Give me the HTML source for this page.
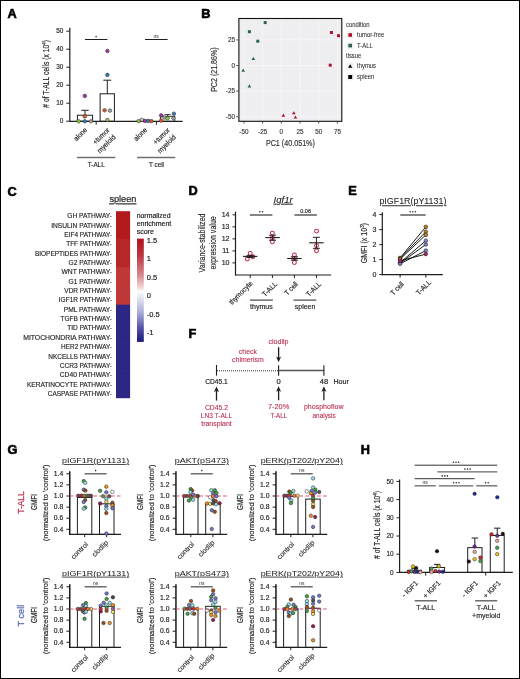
<!DOCTYPE html>
<html><head><meta charset="utf-8"><style>
html,body{margin:0;padding:0;background:#fff;}
svg{display:block;will-change:transform;font-family:"Liberation Sans", sans-serif;}
</style></head><body>
<svg width="520" height="679" viewBox="0 0 520 679">
<rect x="0" y="0" width="520" height="679" fill="#fff"/>
<rect x="0.50" y="0.50" width="519.00" height="678.00" fill="none" stroke="#000" stroke-width="1" />
<text x="0" y="0" font-size="12" fill="#000" stroke="#000" stroke-width="0.6" font-weight="bold" transform="translate(7.60 17.70) scale(1.06 1)" >A</text>
<text x="0" y="0" font-size="12" fill="#000" stroke="#000" stroke-width="0.6" font-weight="bold" transform="translate(201.20 17.60) scale(1.06 1)" >B</text>
<text x="0" y="0" font-size="12" fill="#000" stroke="#000" stroke-width="0.6" font-weight="bold" transform="translate(7.60 196.20) scale(1.06 1)" >C</text>
<text x="0" y="0" font-size="12" fill="#000" stroke="#000" stroke-width="0.6" font-weight="bold" transform="translate(188.40 195.40) scale(1.06 1)" >D</text>
<text x="0" y="0" font-size="12" fill="#000" stroke="#000" stroke-width="0.6" font-weight="bold" transform="translate(348.30 195.20) scale(1.06 1)" >E</text>
<text x="0" y="0" font-size="12" fill="#000" stroke="#000" stroke-width="0.6" font-weight="bold" transform="translate(188.60 337.60) scale(1.06 1)" >F</text>
<text x="0" y="0" font-size="12" fill="#000" stroke="#000" stroke-width="0.6" font-weight="bold" transform="translate(7.60 454.30) scale(1.06 1)" >G</text>
<text x="0" y="0" font-size="12" fill="#000" stroke="#000" stroke-width="0.6" font-weight="bold" transform="translate(360.80 453.80) scale(1.06 1)" >H</text>
<line x1="69.80" y1="27.80" x2="69.80" y2="121.80" stroke="#1e1e1e" stroke-width="1.2" />
<line x1="66.30" y1="121.20" x2="69.80" y2="121.20" stroke="#1e1e1e" stroke-width="1" />
<text x="0" y="0" font-size="7.2" fill="#2a2a2a" stroke="#2a2a2a" stroke-width="0.18" text-anchor="end" transform="translate(63.40 123.00) scale(0.9 1)" >0</text>
<line x1="66.30" y1="103.20" x2="69.80" y2="103.20" stroke="#1e1e1e" stroke-width="1" />
<text x="0" y="0" font-size="7.2" fill="#2a2a2a" stroke="#2a2a2a" stroke-width="0.18" text-anchor="end" transform="translate(63.40 105.00) scale(0.9 1)" >10</text>
<line x1="66.30" y1="85.20" x2="69.80" y2="85.20" stroke="#1e1e1e" stroke-width="1" />
<text x="0" y="0" font-size="7.2" fill="#2a2a2a" stroke="#2a2a2a" stroke-width="0.18" text-anchor="end" transform="translate(63.40 87.00) scale(0.9 1)" >20</text>
<line x1="66.30" y1="67.20" x2="69.80" y2="67.20" stroke="#1e1e1e" stroke-width="1" />
<text x="0" y="0" font-size="7.2" fill="#2a2a2a" stroke="#2a2a2a" stroke-width="0.18" text-anchor="end" transform="translate(63.40 69.00) scale(0.9 1)" >30</text>
<line x1="66.30" y1="49.20" x2="69.80" y2="49.20" stroke="#1e1e1e" stroke-width="1" />
<text x="0" y="0" font-size="7.2" fill="#2a2a2a" stroke="#2a2a2a" stroke-width="0.18" text-anchor="end" transform="translate(63.40 51.00) scale(0.9 1)" >40</text>
<line x1="66.30" y1="31.20" x2="69.80" y2="31.20" stroke="#1e1e1e" stroke-width="1" />
<text x="0" y="0" font-size="7.2" fill="#2a2a2a" stroke="#2a2a2a" stroke-width="0.18" text-anchor="end" transform="translate(63.40 33.00) scale(0.9 1)" >50</text>
<text x="0" y="0" font-size="8.5" fill="#2a2a2a" stroke="#2a2a2a" stroke-width="0.18" text-anchor="middle" transform="translate(49.40 73.90) rotate(-90)" textLength="67.6" lengthAdjust="spacingAndGlyphs" ># of T-ALL cells (x 10<tspan dy="-3" font-size="5.5">4</tspan><tspan dy="3">)</tspan></text>
<line x1="69.80" y1="121.30" x2="182.60" y2="121.30" stroke="#1e1e1e" stroke-width="1.2" />
<line x1="96.20" y1="121.30" x2="96.20" y2="124.70" stroke="#1e1e1e" stroke-width="1" />
<line x1="156.40" y1="121.30" x2="156.40" y2="124.70" stroke="#1e1e1e" stroke-width="1" />
<rect x="77.40" y="115.20" width="15.20" height="6.10" fill="none" stroke="#1e1e1e" stroke-width="1" />
<line x1="85.00" y1="115.20" x2="85.00" y2="110.30" stroke="#1e1e1e" stroke-width="1" />
<line x1="81.30" y1="110.30" x2="88.70" y2="110.30" stroke="#1e1e1e" stroke-width="1" />
<rect x="100.10" y="93.80" width="14.30" height="27.50" fill="none" stroke="#1e1e1e" stroke-width="1" />
<line x1="107.30" y1="93.80" x2="107.30" y2="80.20" stroke="#1e1e1e" stroke-width="1" />
<line x1="103.30" y1="80.20" x2="111.30" y2="80.20" stroke="#1e1e1e" stroke-width="1" />
<rect x="137.80" y="120.60" width="14.00" height="0.70" fill="none" stroke="#1e1e1e" stroke-width="0.8" />
<rect x="160.40" y="116.30" width="14.40" height="5.00" fill="none" stroke="#1e1e1e" stroke-width="0.9" />
<line x1="167.60" y1="116.30" x2="167.60" y2="114.60" stroke="#1e1e1e" stroke-width="0.9" />
<line x1="164.60" y1="114.60" x2="170.60" y2="114.60" stroke="#1e1e1e" stroke-width="0.9" />
<line x1="84.90" y1="39.50" x2="107.40" y2="39.50" stroke="#1e1e1e" stroke-width="1.0" />
<circle cx="96.10" cy="36.60" r="0.8" fill="#2a2a2a"/>
<line x1="145.00" y1="39.50" x2="167.60" y2="39.50" stroke="#1e1e1e" stroke-width="1.0" />
<text x="156.20" y="37.50" font-size="5" fill="#2a2a2a" text-anchor="middle" >ns</text>
<circle cx="84.80" cy="95.90" r="1.8" fill="#a8309c" stroke="#333" stroke-width="0.55"/>
<circle cx="84.80" cy="116.40" r="1.8" fill="#e4561a" stroke="#333" stroke-width="0.55"/>
<circle cx="78.70" cy="121.30" r="1.8" fill="#8cc63f" stroke="#333" stroke-width="0.55"/>
<circle cx="84.80" cy="121.30" r="1.8" fill="#2e7db0" stroke="#333" stroke-width="0.55"/>
<circle cx="90.90" cy="121.30" r="1.8" fill="#a3a3a3" stroke="#333" stroke-width="0.55"/>
<circle cx="107.40" cy="51.00" r="1.8" fill="#a8309c" stroke="#333" stroke-width="0.55"/>
<circle cx="107.40" cy="74.90" r="1.8" fill="#2e7db0" stroke="#333" stroke-width="0.55"/>
<circle cx="104.60" cy="110.30" r="1.8" fill="#e4561a" stroke="#333" stroke-width="0.55"/>
<circle cx="110.00" cy="110.60" r="1.8" fill="#a3a3a3" stroke="#333" stroke-width="0.55"/>
<circle cx="107.40" cy="120.00" r="1.8" fill="#8cc63f" stroke="#333" stroke-width="0.55"/>
<circle cx="138.70" cy="121.10" r="1.8" fill="#8cc63f" stroke="#333" stroke-width="0.55"/>
<circle cx="141.90" cy="119.80" r="1.8" fill="#c4c4c4" stroke="#333" stroke-width="0.55"/>
<circle cx="145.00" cy="120.90" r="1.8" fill="#a8309c" stroke="#333" stroke-width="0.55"/>
<circle cx="148.20" cy="120.90" r="1.8" fill="#2e7db0" stroke="#333" stroke-width="0.55"/>
<circle cx="151.40" cy="121.10" r="1.8" fill="#e4561a" stroke="#333" stroke-width="0.55"/>
<circle cx="161.20" cy="115.40" r="1.8" fill="#a8309c" stroke="#333" stroke-width="0.55"/>
<circle cx="161.20" cy="120.60" r="1.8" fill="#e4561a" stroke="#333" stroke-width="0.55"/>
<circle cx="164.50" cy="117.60" r="1.8" fill="#a3a3a3" stroke="#333" stroke-width="0.55"/>
<circle cx="167.60" cy="118.20" r="1.8" fill="#8cc63f" stroke="#333" stroke-width="0.55"/>
<circle cx="173.40" cy="118.20" r="1.8" fill="#a3a3a3" stroke="#333" stroke-width="0.55"/>
<circle cx="173.90" cy="113.70" r="1.8" fill="#2e7db0" stroke="#333" stroke-width="0.55"/>
<text x="0" y="0" font-size="7.2" fill="#2a2a2a" stroke="#2a2a2a" stroke-width="0.18" text-anchor="end" transform="translate(87.60 130.40) rotate(-45) scale(0.9 1)" >alone</text>
<text x="0" y="0" font-size="7.2" fill="#2a2a2a" stroke="#2a2a2a" stroke-width="0.18" text-anchor="end" transform="translate(147.60 130.40) rotate(-45) scale(0.9 1)" >alone</text>
<text x="0" y="0" font-size="7.2" fill="#2a2a2a" stroke="#2a2a2a" stroke-width="0.18" text-anchor="end" transform="translate(110.00 130.60) rotate(-45) scale(0.9 1)" >+tumor</text>
<text x="0" y="0" font-size="7.2" fill="#2a2a2a" stroke="#2a2a2a" stroke-width="0.18" text-anchor="end" transform="translate(116.00 137.60) rotate(-45) scale(0.92 1)" >myeloid</text>
<text x="0" y="0" font-size="7.2" fill="#2a2a2a" stroke="#2a2a2a" stroke-width="0.18" text-anchor="end" transform="translate(170.40 130.60) rotate(-45) scale(0.9 1)" >+tumor</text>
<text x="0" y="0" font-size="7.2" fill="#2a2a2a" stroke="#2a2a2a" stroke-width="0.18" text-anchor="end" transform="translate(176.40 137.60) rotate(-45) scale(0.92 1)" >myeloid</text>
<line x1="76.90" y1="157.50" x2="115.20" y2="157.50" stroke="#707070" stroke-width="1.5" />
<text x="0" y="0" font-size="7.3" fill="#2a2a2a" stroke="#2a2a2a" stroke-width="0.18" text-anchor="middle" transform="translate(96.20 167.00) scale(0.87 1)" >T-ALL</text>
<line x1="137.10" y1="157.50" x2="175.20" y2="157.50" stroke="#707070" stroke-width="1.5" />
<text x="0" y="0" font-size="7.3" fill="#2a2a2a" stroke="#2a2a2a" stroke-width="0.18" text-anchor="middle" transform="translate(156.50 167.00) scale(0.87 1)" >T cell</text>
<rect x="238.50" y="18.00" width="103.30" height="103.30" fill="#eeeef0" stroke="none" stroke-width="0" />
<line x1="243.90" y1="18.00" x2="243.90" y2="121.30" stroke="rgba(255,255,255,0.75)" stroke-width="0.6" />
<line x1="262.60" y1="18.00" x2="262.60" y2="121.30" stroke="rgba(255,255,255,0.75)" stroke-width="0.6" />
<line x1="281.30" y1="18.00" x2="281.30" y2="121.30" stroke="rgba(255,255,255,0.75)" stroke-width="0.6" />
<line x1="300.00" y1="18.00" x2="300.00" y2="121.30" stroke="rgba(255,255,255,0.75)" stroke-width="0.6" />
<line x1="318.70" y1="18.00" x2="318.70" y2="121.30" stroke="rgba(255,255,255,0.75)" stroke-width="0.6" />
<line x1="337.40" y1="18.00" x2="337.40" y2="121.30" stroke="rgba(255,255,255,0.75)" stroke-width="0.6" />
<line x1="253.25" y1="18.00" x2="253.25" y2="121.30" stroke="rgba(255,255,255,0.6)" stroke-width="0.35" />
<line x1="271.95" y1="18.00" x2="271.95" y2="121.30" stroke="rgba(255,255,255,0.6)" stroke-width="0.35" />
<line x1="290.65" y1="18.00" x2="290.65" y2="121.30" stroke="rgba(255,255,255,0.6)" stroke-width="0.35" />
<line x1="309.35" y1="18.00" x2="309.35" y2="121.30" stroke="rgba(255,255,255,0.6)" stroke-width="0.35" />
<line x1="328.05" y1="18.00" x2="328.05" y2="121.30" stroke="rgba(255,255,255,0.6)" stroke-width="0.35" />
<line x1="238.50" y1="116.70" x2="341.80" y2="116.70" stroke="rgba(255,255,255,0.75)" stroke-width="0.6" />
<line x1="238.50" y1="91.10" x2="341.80" y2="91.10" stroke="rgba(255,255,255,0.75)" stroke-width="0.6" />
<line x1="238.50" y1="65.50" x2="341.80" y2="65.50" stroke="rgba(255,255,255,0.75)" stroke-width="0.6" />
<line x1="238.50" y1="39.90" x2="341.80" y2="39.90" stroke="rgba(255,255,255,0.75)" stroke-width="0.6" />
<line x1="238.50" y1="103.90" x2="341.80" y2="103.90" stroke="rgba(255,255,255,0.6)" stroke-width="0.35" />
<line x1="238.50" y1="78.30" x2="341.80" y2="78.30" stroke="rgba(255,255,255,0.6)" stroke-width="0.35" />
<line x1="238.50" y1="52.70" x2="341.80" y2="52.70" stroke="rgba(255,255,255,0.6)" stroke-width="0.35" />
<line x1="238.50" y1="27.10" x2="341.80" y2="27.10" stroke="rgba(255,255,255,0.6)" stroke-width="0.35" />
<rect x="238.90" y="18.50" width="102.90" height="102.80" fill="none" stroke="#111" stroke-width="1.1" />
<line x1="243.90" y1="121.30" x2="243.90" y2="123.60" stroke="#333" stroke-width="0.8" />
<text x="243.90" y="134.00" font-size="6.3" fill="#444" stroke="#444" stroke-width="0.18" text-anchor="middle" >-50</text>
<line x1="262.60" y1="121.30" x2="262.60" y2="123.60" stroke="#333" stroke-width="0.8" />
<text x="262.60" y="134.00" font-size="6.3" fill="#444" stroke="#444" stroke-width="0.18" text-anchor="middle" >-25</text>
<line x1="281.30" y1="121.30" x2="281.30" y2="123.60" stroke="#333" stroke-width="0.8" />
<text x="281.30" y="134.00" font-size="6.3" fill="#444" stroke="#444" stroke-width="0.18" text-anchor="middle" >0</text>
<line x1="300.00" y1="121.30" x2="300.00" y2="123.60" stroke="#333" stroke-width="0.8" />
<text x="300.00" y="134.00" font-size="6.3" fill="#444" stroke="#444" stroke-width="0.18" text-anchor="middle" >25</text>
<line x1="318.70" y1="121.30" x2="318.70" y2="123.60" stroke="#333" stroke-width="0.8" />
<text x="318.70" y="134.00" font-size="6.3" fill="#444" stroke="#444" stroke-width="0.18" text-anchor="middle" >50</text>
<line x1="337.40" y1="121.30" x2="337.40" y2="123.60" stroke="#333" stroke-width="0.8" />
<text x="337.40" y="134.00" font-size="6.3" fill="#444" stroke="#444" stroke-width="0.18" text-anchor="middle" >75</text>
<line x1="236.20" y1="116.70" x2="238.50" y2="116.70" stroke="#333" stroke-width="0.8" />
<text x="234.90" y="118.90" font-size="6.3" fill="#444" stroke="#444" stroke-width="0.18" text-anchor="end" >-50</text>
<line x1="236.20" y1="91.10" x2="238.50" y2="91.10" stroke="#333" stroke-width="0.8" />
<text x="234.90" y="93.30" font-size="6.3" fill="#444" stroke="#444" stroke-width="0.18" text-anchor="end" >-25</text>
<line x1="236.20" y1="65.50" x2="238.50" y2="65.50" stroke="#333" stroke-width="0.8" />
<text x="234.90" y="67.70" font-size="6.3" fill="#444" stroke="#444" stroke-width="0.18" text-anchor="end" >0</text>
<line x1="236.20" y1="39.90" x2="238.50" y2="39.90" stroke="#333" stroke-width="0.8" />
<text x="234.90" y="42.10" font-size="6.3" fill="#444" stroke="#444" stroke-width="0.18" text-anchor="end" >25</text>
<text x="290.40" y="145.80" font-size="8.8" fill="#333" stroke="#333" stroke-width="0.18" text-anchor="middle" textLength="49" lengthAdjust="spacingAndGlyphs" >PC1 (40.051%)</text>
<text x="0" y="0" font-size="8.8" fill="#333" stroke="#333" stroke-width="0.18" text-anchor="middle" transform="translate(217.00 69.60) rotate(-90)" textLength="44.5" lengthAdjust="spacingAndGlyphs" >PC2 (21.86%)</text>
<rect x="263.70" y="21.10" width="3.00" height="3.00" fill="#28644a" stroke="none" stroke-width="0" />
<rect x="247.90" y="30.20" width="3.00" height="3.00" fill="#28644a" stroke="none" stroke-width="0" />
<rect x="256.30" y="39.70" width="3.00" height="3.00" fill="#28644a" stroke="none" stroke-width="0" />
<path d="M251.50,59.97 L255.10,59.97 L253.30,56.83 Z" fill="#28644a" stroke="none" stroke-width="0" />
<path d="M241.40,71.67 L245.00,71.67 L243.20,68.53 Z" fill="#28644a" stroke="none" stroke-width="0" />
<path d="M247.60,87.47 L251.20,87.47 L249.40,84.33 Z" fill="#28644a" stroke="none" stroke-width="0" />
<rect x="329.90" y="31.00" width="3.00" height="3.00" fill="#b0132b" stroke="none" stroke-width="0" />
<rect x="337.00" y="34.20" width="3.00" height="3.00" fill="#b0132b" stroke="none" stroke-width="0" />
<rect x="328.70" y="63.70" width="3.00" height="3.00" fill="#b0132b" stroke="none" stroke-width="0" />
<path d="M281.60,116.67 L285.20,116.67 L283.40,113.53 Z" fill="#b0132b" stroke="none" stroke-width="0" />
<path d="M292.00,114.27 L295.60,114.27 L293.80,111.13 Z" fill="#b0132b" stroke="none" stroke-width="0" />
<path d="M293.60,118.57 L297.20,118.57 L295.40,115.43 Z" fill="#b0132b" stroke="none" stroke-width="0" />
<text x="0" y="0" font-size="6.4" fill="#333" stroke="#333" stroke-width="0.08" transform="translate(346.00 26.60) scale(0.92 1)" >condition</text>
<rect x="346.60" y="31.40" width="7.20" height="7.20" fill="#f2f2f2" stroke="none" stroke-width="0" />
<rect x="348.40" y="33.20" width="3.60" height="3.60" fill="#b0132b" stroke="none" stroke-width="0" />
<text x="0" y="0" font-size="6.4" fill="#333" stroke="#333" stroke-width="0.08" transform="translate(357.10 37.20) scale(0.92 1)" >tumor-free</text>
<rect x="346.60" y="42.00" width="7.20" height="7.20" fill="#f2f2f2" stroke="none" stroke-width="0" />
<rect x="348.40" y="43.80" width="3.60" height="3.60" fill="#28644a" stroke="none" stroke-width="0" />
<text x="0" y="0" font-size="6.4" fill="#333" stroke="#333" stroke-width="0.08" transform="translate(357.10 47.80) scale(0.92 1)" >T-ALL</text>
<text x="0" y="0" font-size="6.4" fill="#333" stroke="#333" stroke-width="0.08" transform="translate(346.00 57.60) scale(0.92 1)" >tissue</text>
<rect x="346.60" y="62.40" width="7.20" height="7.20" fill="#f2f2f2" stroke="none" stroke-width="0" />
<path d="M348.05,67.87 L352.35,67.87 L350.20,64.13 Z" fill="#000" stroke="none" stroke-width="0" />
<text x="0" y="0" font-size="6.4" fill="#333" stroke="#333" stroke-width="0.08" transform="translate(357.10 68.20) scale(0.92 1)" >thymus</text>
<rect x="346.60" y="73.40" width="7.20" height="7.20" fill="#f2f2f2" stroke="none" stroke-width="0" />
<rect x="348.25" y="75.05" width="3.90" height="3.90" fill="#000" stroke="none" stroke-width="0" />
<text x="0" y="0" font-size="6.4" fill="#333" stroke="#333" stroke-width="0.08" transform="translate(357.10 79.20) scale(0.92 1)" >spleen</text>
<text x="122.90" y="202.40" font-size="9.2" fill="#222" stroke="#222" stroke-width="0.18" text-anchor="middle" textLength="27" lengthAdjust="spacingAndGlyphs" text-decoration="underline" >spleen</text>
<rect x="116.00" y="211.20" width="14.10" height="10.05" fill="#b31a1c" stroke="none" stroke-width="0" />
<text x="111.90" y="218.28" font-size="7.0" fill="#222" stroke="#222" stroke-width="0.14" text-anchor="end" textLength="44.6" lengthAdjust="spacingAndGlyphs" >GH PATHWAY-</text>
<rect x="116.00" y="220.55" width="14.10" height="10.05" fill="#b31a1c" stroke="none" stroke-width="0" />
<text x="111.90" y="227.62" font-size="7.0" fill="#222" stroke="#222" stroke-width="0.14" text-anchor="end" textLength="60.7" lengthAdjust="spacingAndGlyphs" >INSULIN PATHWAY-</text>
<rect x="116.00" y="229.90" width="14.10" height="10.05" fill="#b31a1c" stroke="none" stroke-width="0" />
<text x="111.90" y="236.97" font-size="7.0" fill="#222" stroke="#222" stroke-width="0.14" text-anchor="end" textLength="47.6" lengthAdjust="spacingAndGlyphs" >EIF4 PATHWAY-</text>
<rect x="116.00" y="239.25" width="14.10" height="10.05" fill="#b82728" stroke="none" stroke-width="0" />
<text x="111.90" y="246.33" font-size="7.0" fill="#222" stroke="#222" stroke-width="0.14" text-anchor="end" textLength="45.7" lengthAdjust="spacingAndGlyphs" >TFF PATHWAY-</text>
<rect x="116.00" y="248.60" width="14.10" height="10.05" fill="#b82728" stroke="none" stroke-width="0" />
<text x="111.90" y="255.68" font-size="7.0" fill="#222" stroke="#222" stroke-width="0.14" text-anchor="end" textLength="77.0" lengthAdjust="spacingAndGlyphs" >BIOPEPTIDES PATHWAY-</text>
<rect x="116.00" y="257.95" width="14.10" height="10.05" fill="#b82728" stroke="none" stroke-width="0" />
<text x="111.90" y="265.02" font-size="7.0" fill="#222" stroke="#222" stroke-width="0.14" text-anchor="end" textLength="43.4" lengthAdjust="spacingAndGlyphs" >G2 PATHWAY-</text>
<rect x="116.00" y="267.30" width="14.10" height="10.05" fill="#be3838" stroke="none" stroke-width="0" />
<text x="111.90" y="274.37" font-size="7.0" fill="#222" stroke="#222" stroke-width="0.14" text-anchor="end" textLength="50.4" lengthAdjust="spacingAndGlyphs" >WNT PATHWAY-</text>
<rect x="116.00" y="276.65" width="14.10" height="10.05" fill="#be3838" stroke="none" stroke-width="0" />
<text x="111.90" y="283.72" font-size="7.0" fill="#222" stroke="#222" stroke-width="0.14" text-anchor="end" textLength="43.4" lengthAdjust="spacingAndGlyphs" >G1 PATHWAY-</text>
<rect x="116.00" y="286.00" width="14.10" height="10.05" fill="#be3838" stroke="none" stroke-width="0" />
<text x="111.90" y="293.07" font-size="7.0" fill="#222" stroke="#222" stroke-width="0.14" text-anchor="end" textLength="47.6" lengthAdjust="spacingAndGlyphs" >VDR PATHWAY-</text>
<rect x="116.00" y="295.35" width="14.10" height="10.05" fill="#be3838" stroke="none" stroke-width="0" />
<text x="111.90" y="302.42" font-size="7.0" fill="#222" stroke="#222" stroke-width="0.14" text-anchor="end" textLength="53.1" lengthAdjust="spacingAndGlyphs" >IGF1R PATHWAY-</text>
<rect x="116.00" y="304.70" width="14.10" height="10.05" fill="#2c2785" stroke="none" stroke-width="0" />
<text x="111.90" y="311.77" font-size="7.0" fill="#222" stroke="#222" stroke-width="0.14" text-anchor="end" textLength="48.1" lengthAdjust="spacingAndGlyphs" >PML PATHWAY-</text>
<rect x="116.00" y="314.05" width="14.10" height="10.05" fill="#2c2785" stroke="none" stroke-width="0" />
<text x="111.90" y="321.12" font-size="7.0" fill="#222" stroke="#222" stroke-width="0.14" text-anchor="end" textLength="51.5" lengthAdjust="spacingAndGlyphs" >TGFB PATHWAY-</text>
<rect x="116.00" y="323.40" width="14.10" height="10.05" fill="#2c2785" stroke="none" stroke-width="0" />
<text x="111.90" y="330.47" font-size="7.0" fill="#222" stroke="#222" stroke-width="0.14" text-anchor="end" textLength="44.6" lengthAdjust="spacingAndGlyphs" >TID PATHWAY-</text>
<rect x="116.00" y="332.75" width="14.10" height="10.05" fill="#2c2785" stroke="none" stroke-width="0" />
<text x="111.90" y="339.82" font-size="7.0" fill="#222" stroke="#222" stroke-width="0.14" text-anchor="end" textLength="88.7" lengthAdjust="spacingAndGlyphs" >MITOCHONDRIA PATHWAY-</text>
<rect x="116.00" y="342.10" width="14.10" height="10.05" fill="#2c2785" stroke="none" stroke-width="0" />
<text x="111.90" y="349.18" font-size="7.0" fill="#222" stroke="#222" stroke-width="0.14" text-anchor="end" textLength="50.8" lengthAdjust="spacingAndGlyphs" >HER2 PATHWAY-</text>
<rect x="116.00" y="351.45" width="14.10" height="10.05" fill="#2c2785" stroke="none" stroke-width="0" />
<text x="111.90" y="358.52" font-size="7.0" fill="#222" stroke="#222" stroke-width="0.14" text-anchor="end" textLength="63.7" lengthAdjust="spacingAndGlyphs" >NKCELLS PATHWAY-</text>
<rect x="116.00" y="360.80" width="14.10" height="10.05" fill="#2c2785" stroke="none" stroke-width="0" />
<text x="111.90" y="367.87" font-size="7.0" fill="#222" stroke="#222" stroke-width="0.14" text-anchor="end" textLength="52.2" lengthAdjust="spacingAndGlyphs" >CCR3 PATHWAY-</text>
<rect x="116.00" y="370.15" width="14.10" height="10.05" fill="#2c2785" stroke="none" stroke-width="0" />
<text x="111.90" y="377.22" font-size="7.0" fill="#222" stroke="#222" stroke-width="0.14" text-anchor="end" textLength="52.2" lengthAdjust="spacingAndGlyphs" >CD40 PATHWAY-</text>
<rect x="116.00" y="379.50" width="14.10" height="10.05" fill="#2c2785" stroke="none" stroke-width="0" />
<text x="111.90" y="386.57" font-size="7.0" fill="#222" stroke="#222" stroke-width="0.14" text-anchor="end" textLength="85.0" lengthAdjust="spacingAndGlyphs" >KERATINOCYTE PATHWAY-</text>
<rect x="116.00" y="388.85" width="14.10" height="9.35" fill="#2c2785" stroke="none" stroke-width="0" />
<text x="111.90" y="395.93" font-size="7.0" fill="#222" stroke="#222" stroke-width="0.14" text-anchor="end" textLength="64.2" lengthAdjust="spacingAndGlyphs" >CASPASE PATHWAY-</text>
<line x1="116.00" y1="220.55" x2="130.10" y2="220.55" stroke="rgba(255,255,255,0.05)" stroke-width="0.3" />
<line x1="116.00" y1="229.90" x2="130.10" y2="229.90" stroke="rgba(255,255,255,0.05)" stroke-width="0.3" />
<line x1="116.00" y1="239.25" x2="130.10" y2="239.25" stroke="rgba(255,255,255,0.05)" stroke-width="0.3" />
<line x1="116.00" y1="248.60" x2="130.10" y2="248.60" stroke="rgba(255,255,255,0.05)" stroke-width="0.3" />
<line x1="116.00" y1="257.95" x2="130.10" y2="257.95" stroke="rgba(255,255,255,0.05)" stroke-width="0.3" />
<line x1="116.00" y1="267.30" x2="130.10" y2="267.30" stroke="rgba(255,255,255,0.05)" stroke-width="0.3" />
<line x1="116.00" y1="276.65" x2="130.10" y2="276.65" stroke="rgba(255,255,255,0.05)" stroke-width="0.3" />
<line x1="116.00" y1="286.00" x2="130.10" y2="286.00" stroke="rgba(255,255,255,0.05)" stroke-width="0.3" />
<line x1="116.00" y1="295.35" x2="130.10" y2="295.35" stroke="rgba(255,255,255,0.05)" stroke-width="0.3" />
<line x1="116.00" y1="304.70" x2="130.10" y2="304.70" stroke="rgba(255,255,255,0.05)" stroke-width="0.3" />
<line x1="116.00" y1="314.05" x2="130.10" y2="314.05" stroke="rgba(255,255,255,0.05)" stroke-width="0.3" />
<line x1="116.00" y1="323.40" x2="130.10" y2="323.40" stroke="rgba(255,255,255,0.05)" stroke-width="0.3" />
<line x1="116.00" y1="332.75" x2="130.10" y2="332.75" stroke="rgba(255,255,255,0.05)" stroke-width="0.3" />
<line x1="116.00" y1="342.10" x2="130.10" y2="342.10" stroke="rgba(255,255,255,0.05)" stroke-width="0.3" />
<line x1="116.00" y1="351.45" x2="130.10" y2="351.45" stroke="rgba(255,255,255,0.05)" stroke-width="0.3" />
<line x1="116.00" y1="360.80" x2="130.10" y2="360.80" stroke="rgba(255,255,255,0.05)" stroke-width="0.3" />
<line x1="116.00" y1="370.15" x2="130.10" y2="370.15" stroke="rgba(255,255,255,0.05)" stroke-width="0.3" />
<line x1="116.00" y1="379.50" x2="130.10" y2="379.50" stroke="rgba(255,255,255,0.05)" stroke-width="0.3" />
<line x1="116.00" y1="388.85" x2="130.10" y2="388.85" stroke="rgba(255,255,255,0.05)" stroke-width="0.3" />
<text x="136.70" y="217.60" font-size="7" fill="#222" stroke="#222" stroke-width="0.18" textLength="33.8" lengthAdjust="spacingAndGlyphs" >normalized</text>
<text x="136.70" y="225.70" font-size="7" fill="#222" stroke="#222" stroke-width="0.18" textLength="34.6" lengthAdjust="spacingAndGlyphs" >enrichment</text>
<text x="136.70" y="233.80" font-size="7" fill="#222" stroke="#222" stroke-width="0.18" >score</text>
<defs><linearGradient id="cbar" x1="0" y1="0" x2="0" y2="1">
<stop offset="0" stop-color="#b2101e"/>
<stop offset="0.16" stop-color="#bb3640"/>
<stop offset="0.35" stop-color="#d7868c"/>
<stop offset="0.47" stop-color="#f0d4d6"/>
<stop offset="0.50" stop-color="#fbf3f3"/>
<stop offset="0.52" stop-color="#ffffff"/>
<stop offset="0.53" stop-color="#f4f4fb"/>
<stop offset="0.58" stop-color="#e2e2f2"/>
<stop offset="0.72" stop-color="#a9a9d6"/>
<stop offset="0.88" stop-color="#4b4aa0"/>
<stop offset="1" stop-color="#1c1a78"/>
</linearGradient></defs>
<rect x="137.00" y="238.60" width="6.80" height="103.30" fill="url(#cbar)" stroke="none" stroke-width="0" />
<text x="146.80" y="242.65" font-size="7.5" fill="#222" stroke="#222" stroke-width="0.18" >1.5</text>
<text x="146.80" y="261.20" font-size="7.5" fill="#222" stroke="#222" stroke-width="0.18" >1</text>
<text x="146.80" y="279.75" font-size="7.5" fill="#222" stroke="#222" stroke-width="0.18" >0.5</text>
<text x="146.80" y="298.30" font-size="7.5" fill="#222" stroke="#222" stroke-width="0.18" >0</text>
<text x="146.80" y="316.85" font-size="7.5" fill="#222" stroke="#222" stroke-width="0.18" >-0.5</text>
<text x="146.80" y="335.40" font-size="7.5" fill="#222" stroke="#222" stroke-width="0.18" >-1</text>
<text x="283.10" y="202.70" font-size="9.4" fill="#222" stroke="#222" stroke-width="0.1" text-anchor="middle" font-style="italic" textLength="19.2" lengthAdjust="spacingAndGlyphs" text-decoration="underline" >Igf1r</text>
<line x1="235.50" y1="211.60" x2="235.50" y2="275.60" stroke="#1e1e1e" stroke-width="1.2" />
<line x1="232.50" y1="262.90" x2="235.50" y2="262.90" stroke="#1e1e1e" stroke-width="1" />
<text x="229.50" y="265.40" font-size="7" fill="#2a2a2a" stroke="#2a2a2a" stroke-width="0.18" text-anchor="end" >10</text>
<line x1="232.50" y1="250.88" x2="235.50" y2="250.88" stroke="#1e1e1e" stroke-width="1" />
<text x="229.50" y="253.38" font-size="7" fill="#2a2a2a" stroke="#2a2a2a" stroke-width="0.18" text-anchor="end" >11</text>
<line x1="232.50" y1="238.86" x2="235.50" y2="238.86" stroke="#1e1e1e" stroke-width="1" />
<text x="229.50" y="241.36" font-size="7" fill="#2a2a2a" stroke="#2a2a2a" stroke-width="0.18" text-anchor="end" >12</text>
<line x1="232.50" y1="226.84" x2="235.50" y2="226.84" stroke="#1e1e1e" stroke-width="1" />
<text x="229.50" y="229.34" font-size="7" fill="#2a2a2a" stroke="#2a2a2a" stroke-width="0.18" text-anchor="end" >13</text>
<line x1="232.50" y1="214.82" x2="235.50" y2="214.82" stroke="#1e1e1e" stroke-width="1" />
<text x="229.50" y="217.32" font-size="7" fill="#2a2a2a" stroke="#2a2a2a" stroke-width="0.18" text-anchor="end" >14</text>
<line x1="235.50" y1="275.00" x2="331.20" y2="275.00" stroke="#1e1e1e" stroke-width="1.2" />
<line x1="250.20" y1="275.00" x2="250.20" y2="278.00" stroke="#1e1e1e" stroke-width="1" />
<line x1="272.40" y1="275.00" x2="272.40" y2="278.00" stroke="#1e1e1e" stroke-width="1" />
<line x1="294.40" y1="275.00" x2="294.40" y2="278.00" stroke="#1e1e1e" stroke-width="1" />
<line x1="316.50" y1="275.00" x2="316.50" y2="278.00" stroke="#1e1e1e" stroke-width="1" />
<text x="0" y="0" font-size="9.5" fill="#2a2a2a" stroke="#2a2a2a" stroke-width="0.18" text-anchor="middle" transform="translate(205.30 243.00) rotate(-90)" textLength="58.9" lengthAdjust="spacingAndGlyphs" >Variance-stabilized</text>
<text x="0" y="0" font-size="9.5" fill="#2a2a2a" stroke="#2a2a2a" stroke-width="0.18" text-anchor="middle" transform="translate(216.20 242.80) rotate(-90)" textLength="53.2" lengthAdjust="spacingAndGlyphs" >expression value</text>
<line x1="249.90" y1="215.00" x2="272.40" y2="215.00" stroke="#666" stroke-width="1.6" />
<circle cx="259.90" cy="211.70" r="0.8" fill="#2a2a2a"/>
<circle cx="262.50" cy="211.70" r="0.8" fill="#2a2a2a"/>
<line x1="294.40" y1="215.00" x2="316.90" y2="215.00" stroke="#666" stroke-width="1.6" />
<text x="305.60" y="212.80" font-size="5.5" fill="#2a2a2a" stroke="#2a2a2a" stroke-width="0.18" text-anchor="middle" >0.06</text>
<circle cx="247.30" cy="259.10" r="1.95" fill="none" stroke="#c0304c" stroke-width="1.05"/>
<circle cx="250.20" cy="253.40" r="1.95" fill="none" stroke="#c0304c" stroke-width="1.05"/>
<circle cx="252.80" cy="256.80" r="1.95" fill="none" stroke="#c0304c" stroke-width="1.05"/>
<line x1="243.00" y1="256.40" x2="257.40" y2="256.40" stroke="#1e1e1e" stroke-width="1.1" />
<line x1="250.20" y1="255.40" x2="250.20" y2="257.40" stroke="#1e1e1e" stroke-width="1" />
<line x1="246.70" y1="255.40" x2="253.70" y2="255.40" stroke="#1e1e1e" stroke-width="1" />
<line x1="246.70" y1="257.40" x2="253.70" y2="257.40" stroke="#1e1e1e" stroke-width="1" />
<circle cx="272.40" cy="233.10" r="1.95" fill="none" stroke="#c0304c" stroke-width="1.05"/>
<circle cx="272.40" cy="241.70" r="1.95" fill="none" stroke="#c0304c" stroke-width="1.05"/>
<circle cx="272.40" cy="237.80" r="1.95" fill="none" stroke="#c0304c" stroke-width="1.05"/>
<line x1="265.40" y1="237.60" x2="279.80" y2="237.60" stroke="#1e1e1e" stroke-width="1.1" />
<line x1="272.60" y1="235.20" x2="272.60" y2="240.20" stroke="#1e1e1e" stroke-width="1" />
<line x1="269.10" y1="235.20" x2="276.10" y2="235.20" stroke="#1e1e1e" stroke-width="1" />
<line x1="269.10" y1="240.20" x2="276.10" y2="240.20" stroke="#1e1e1e" stroke-width="1" />
<circle cx="294.40" cy="255.00" r="1.95" fill="none" stroke="#c0304c" stroke-width="1.05"/>
<circle cx="294.40" cy="262.50" r="1.95" fill="none" stroke="#c0304c" stroke-width="1.05"/>
<circle cx="294.40" cy="258.20" r="1.95" fill="none" stroke="#c0304c" stroke-width="1.05"/>
<line x1="287.20" y1="258.50" x2="301.60" y2="258.50" stroke="#1e1e1e" stroke-width="1.1" />
<line x1="294.40" y1="256.80" x2="294.40" y2="260.20" stroke="#1e1e1e" stroke-width="1" />
<line x1="290.90" y1="256.80" x2="297.90" y2="256.80" stroke="#1e1e1e" stroke-width="1" />
<line x1="290.90" y1="260.20" x2="297.90" y2="260.20" stroke="#1e1e1e" stroke-width="1" />
<circle cx="316.50" cy="231.10" r="1.95" fill="none" stroke="#c0304c" stroke-width="1.05"/>
<circle cx="316.50" cy="245.60" r="1.95" fill="none" stroke="#c0304c" stroke-width="1.05"/>
<circle cx="316.50" cy="250.80" r="1.95" fill="none" stroke="#c0304c" stroke-width="1.05"/>
<line x1="309.20" y1="242.80" x2="323.60" y2="242.80" stroke="#1e1e1e" stroke-width="1.1" />
<line x1="316.40" y1="237.30" x2="316.40" y2="248.30" stroke="#1e1e1e" stroke-width="1" />
<line x1="312.90" y1="237.30" x2="319.90" y2="237.30" stroke="#1e1e1e" stroke-width="1" />
<line x1="312.90" y1="248.30" x2="319.90" y2="248.30" stroke="#1e1e1e" stroke-width="1" />
<text x="0" y="0" font-size="7.2" fill="#2a2a2a" stroke="#2a2a2a" stroke-width="0.18" text-anchor="end" transform="translate(253.20 283.80) rotate(-45) scale(0.92 1)" >thymocyte</text>
<text x="0" y="0" font-size="7.2" fill="#2a2a2a" stroke="#2a2a2a" stroke-width="0.18" text-anchor="end" transform="translate(277.60 284.60) rotate(-45) scale(0.92 1)" >T-ALL</text>
<text x="0" y="0" font-size="7.2" fill="#2a2a2a" stroke="#2a2a2a" stroke-width="0.18" text-anchor="end" transform="translate(298.40 284.60) rotate(-45) scale(0.92 1)" >T cell</text>
<text x="0" y="0" font-size="7.2" fill="#2a2a2a" stroke="#2a2a2a" stroke-width="0.18" text-anchor="end" transform="translate(321.60 284.60) rotate(-45) scale(0.92 1)" >T-ALL</text>
<line x1="250.10" y1="300.10" x2="272.90" y2="300.10" stroke="#555" stroke-width="1.3" />
<text x="261.40" y="309.00" font-size="7" fill="#2a2a2a" stroke="#2a2a2a" stroke-width="0.18" text-anchor="middle" >thymus</text>
<line x1="293.50" y1="300.10" x2="316.30" y2="300.10" stroke="#555" stroke-width="1.3" />
<text x="305.10" y="309.00" font-size="7" fill="#2a2a2a" stroke="#2a2a2a" stroke-width="0.18" text-anchor="middle" >spleen</text>
<text x="412.90" y="204.30" font-size="8.7" fill="#222" stroke="#222" stroke-width="0.05" text-anchor="middle" textLength="67" lengthAdjust="spacingAndGlyphs" text-decoration="underline" >pIGF1R(pY1131)</text>
<line x1="382.30" y1="212.20" x2="382.30" y2="275.20" stroke="#1e1e1e" stroke-width="1.2" />
<line x1="379.30" y1="274.60" x2="382.30" y2="274.60" stroke="#1e1e1e" stroke-width="1" />
<text x="376.30" y="277.10" font-size="7" fill="#2a2a2a" stroke="#2a2a2a" stroke-width="0.18" text-anchor="end" >0</text>
<line x1="379.30" y1="259.60" x2="382.30" y2="259.60" stroke="#1e1e1e" stroke-width="1" />
<text x="376.30" y="262.10" font-size="7" fill="#2a2a2a" stroke="#2a2a2a" stroke-width="0.18" text-anchor="end" >1</text>
<line x1="379.30" y1="244.60" x2="382.30" y2="244.60" stroke="#1e1e1e" stroke-width="1" />
<text x="376.30" y="247.10" font-size="7" fill="#2a2a2a" stroke="#2a2a2a" stroke-width="0.18" text-anchor="end" >2</text>
<line x1="379.30" y1="229.60" x2="382.30" y2="229.60" stroke="#1e1e1e" stroke-width="1" />
<text x="376.30" y="232.10" font-size="7" fill="#2a2a2a" stroke="#2a2a2a" stroke-width="0.18" text-anchor="end" >3</text>
<line x1="379.30" y1="214.60" x2="382.30" y2="214.60" stroke="#1e1e1e" stroke-width="1" />
<text x="376.30" y="217.10" font-size="7" fill="#2a2a2a" stroke="#2a2a2a" stroke-width="0.18" text-anchor="end" >4</text>
<line x1="382.30" y1="274.60" x2="442.80" y2="274.60" stroke="#1e1e1e" stroke-width="1.2" />
<line x1="400.10" y1="274.60" x2="400.10" y2="277.60" stroke="#1e1e1e" stroke-width="1" />
<line x1="425.80" y1="274.60" x2="425.80" y2="277.60" stroke="#1e1e1e" stroke-width="1" />
<text x="0" y="0" font-size="9" fill="#2a2a2a" stroke="#2a2a2a" stroke-width="0.18" text-anchor="middle" transform="translate(366.80 243.10) rotate(-90)" textLength="40.1" lengthAdjust="spacingAndGlyphs" >GMFI (x 10<tspan dy="-3" font-size="5.5">3</tspan><tspan dy="3">)</tspan></text>
<line x1="400.30" y1="215.00" x2="425.70" y2="215.00" stroke="#666" stroke-width="1.6" />
<circle cx="410.20" cy="211.70" r="0.8" fill="#2a2a2a"/>
<circle cx="412.80" cy="211.70" r="0.8" fill="#2a2a2a"/>
<circle cx="415.40" cy="211.70" r="0.8" fill="#2a2a2a"/>
<line x1="400.10" y1="257.90" x2="425.80" y2="226.90" stroke="#000" stroke-width="0.9" />
<line x1="400.10" y1="258.50" x2="425.80" y2="231.70" stroke="#000" stroke-width="0.9" />
<line x1="400.10" y1="259.10" x2="425.80" y2="234.90" stroke="#000" stroke-width="0.9" />
<line x1="400.10" y1="262.60" x2="425.80" y2="240.70" stroke="#000" stroke-width="0.9" />
<line x1="400.10" y1="263.20" x2="425.80" y2="244.50" stroke="#000" stroke-width="0.9" />
<line x1="400.10" y1="263.80" x2="425.80" y2="250.60" stroke="#000" stroke-width="0.9" />
<line x1="400.10" y1="260.90" x2="425.80" y2="254.10" stroke="#000" stroke-width="0.9" />
<circle cx="400.10" cy="257.90" r="1.8" fill="#c8801e" stroke="#1a1a1a" stroke-width="0.6"/>
<circle cx="400.10" cy="258.50" r="1.8" fill="#c8801e" stroke="#1a1a1a" stroke-width="0.6"/>
<circle cx="400.10" cy="259.10" r="1.8" fill="#c8801e" stroke="#1a1a1a" stroke-width="0.6"/>
<circle cx="400.10" cy="262.60" r="1.8" fill="#7c86e0" stroke="#1a1a1a" stroke-width="0.6"/>
<circle cx="400.10" cy="263.20" r="1.8" fill="#7c86e0" stroke="#1a1a1a" stroke-width="0.6"/>
<circle cx="400.10" cy="263.80" r="1.8" fill="#7c86e0" stroke="#1a1a1a" stroke-width="0.6"/>
<circle cx="400.10" cy="260.90" r="1.8" fill="#c02068" stroke="#1a1a1a" stroke-width="0.6"/>
<circle cx="425.80" cy="226.90" r="1.8" fill="#c8801e" stroke="#1a1a1a" stroke-width="0.6"/>
<circle cx="425.80" cy="231.70" r="1.8" fill="#c8801e" stroke="#1a1a1a" stroke-width="0.6"/>
<circle cx="425.80" cy="234.90" r="1.8" fill="#c8801e" stroke="#1a1a1a" stroke-width="0.6"/>
<circle cx="425.80" cy="240.70" r="1.8" fill="#7c86e0" stroke="#1a1a1a" stroke-width="0.6"/>
<circle cx="425.80" cy="244.50" r="1.8" fill="#7c86e0" stroke="#1a1a1a" stroke-width="0.6"/>
<circle cx="425.80" cy="250.60" r="1.8" fill="#7c86e0" stroke="#1a1a1a" stroke-width="0.6"/>
<circle cx="425.80" cy="254.10" r="1.8" fill="#c02068" stroke="#1a1a1a" stroke-width="0.6"/>
<text x="0" y="0" font-size="7.2" fill="#2a2a2a" stroke="#2a2a2a" stroke-width="0.18" text-anchor="end" transform="translate(404.40 284.60) rotate(-45) scale(0.92 1)" >T cell</text>
<text x="0" y="0" font-size="7.2" fill="#2a2a2a" stroke="#2a2a2a" stroke-width="0.18" text-anchor="end" transform="translate(431.50 283.00) rotate(-45) scale(0.92 1)" >T-ALL</text>
<line x1="216.50" y1="365.00" x2="216.50" y2="375.60" stroke="#1e1e1e" stroke-width="1.1" />
<line x1="217.00" y1="370.80" x2="278.20" y2="370.80" stroke="#333" stroke-width="1.0" stroke-dasharray="1,1"/>
<line x1="278.60" y1="365.20" x2="278.60" y2="375.80" stroke="#1e1e1e" stroke-width="1.1" />
<line x1="278.60" y1="370.50" x2="323.90" y2="370.50" stroke="#555" stroke-width="1.3" />
<line x1="323.90" y1="365.20" x2="323.90" y2="375.80" stroke="#1e1e1e" stroke-width="1.1" />
<text x="216.50" y="383.90" font-size="7.6" fill="#222" stroke="#222" stroke-width="0.18" text-anchor="middle" textLength="22.4" lengthAdjust="spacingAndGlyphs" >CD45.1</text>
<text x="278.60" y="383.90" font-size="7.6" fill="#222" stroke="#222" stroke-width="0.18" text-anchor="middle" >0</text>
<text x="323.90" y="383.90" font-size="7.6" fill="#222" stroke="#222" stroke-width="0.18" text-anchor="middle" >48</text>
<text x="333.40" y="383.90" font-size="7.6" fill="#222" stroke="#222" stroke-width="0.18" textLength="15.4" lengthAdjust="spacingAndGlyphs" >Hour</text>
<line x1="216.50" y1="400.60" x2="216.50" y2="390.40" stroke="#1e1e1e" stroke-width="1.3" />
<path d="M214.00,392.00 L216.50,390.70 L219.00,392.00 L216.50,386.40 Z" fill="#1e1e1e" stroke="none" stroke-width="0" />
<line x1="278.60" y1="347.20" x2="278.60" y2="358.20" stroke="#1e1e1e" stroke-width="1.3" />
<path d="M276.10,356.60 L278.60,357.90 L281.10,356.60 L278.60,362.20 Z" fill="#1e1e1e" stroke="none" stroke-width="0" />
<line x1="278.60" y1="400.20" x2="278.60" y2="390.20" stroke="#1e1e1e" stroke-width="1.3" />
<path d="M276.10,391.80 L278.60,390.50 L281.10,391.80 L278.60,386.20 Z" fill="#1e1e1e" stroke="none" stroke-width="0" />
<line x1="323.90" y1="400.20" x2="323.90" y2="390.20" stroke="#1e1e1e" stroke-width="1.3" />
<path d="M321.40,391.80 L323.90,390.50 L326.40,391.80 L323.90,386.20 Z" fill="#1e1e1e" stroke="none" stroke-width="0" />
<text x="216.50" y="409.60" font-size="7.4" fill="#bb2d50" stroke="#bb2d50" stroke-width="0.1" text-anchor="middle" textLength="23.1" lengthAdjust="spacingAndGlyphs" >CD45.2</text>
<text x="216.50" y="418.00" font-size="7.4" fill="#bb2d50" stroke="#bb2d50" stroke-width="0.1" text-anchor="middle" textLength="31.3" lengthAdjust="spacingAndGlyphs" >LN3 T-ALL</text>
<text x="216.50" y="426.00" font-size="7.4" fill="#bb2d50" stroke="#bb2d50" stroke-width="0.1" text-anchor="middle" textLength="30.4" lengthAdjust="spacingAndGlyphs" >transplant</text>
<text x="247.90" y="353.80" font-size="7.4" fill="#bb2d50" stroke="#bb2d50" stroke-width="0.1" text-anchor="middle" textLength="18.2" lengthAdjust="spacingAndGlyphs" >check</text>
<text x="247.90" y="362.40" font-size="7.4" fill="#bb2d50" stroke="#bb2d50" stroke-width="0.1" text-anchor="middle" textLength="31.7" lengthAdjust="spacingAndGlyphs" >chimerism</text>
<text x="278.50" y="344.00" font-size="7.4" fill="#bb2d50" stroke="#bb2d50" stroke-width="0.1" text-anchor="middle" textLength="20.1" lengthAdjust="spacingAndGlyphs" >clodlip</text>
<text x="278.60" y="409.00" font-size="7.4" fill="#bb2d50" stroke="#bb2d50" stroke-width="0.1" text-anchor="middle" >7-20%</text>
<text x="278.80" y="418.00" font-size="7.4" fill="#bb2d50" stroke="#bb2d50" stroke-width="0.1" text-anchor="middle" textLength="16.5" lengthAdjust="spacingAndGlyphs" >T-ALL</text>
<text x="323.70" y="409.00" font-size="7.4" fill="#bb2d50" stroke="#bb2d50" stroke-width="0.1" text-anchor="middle" textLength="39.6" lengthAdjust="spacingAndGlyphs" >phosphoflow</text>
<text x="324.10" y="418.00" font-size="7.4" fill="#bb2d50" stroke="#bb2d50" stroke-width="0.1" text-anchor="middle" textLength="23.2" lengthAdjust="spacingAndGlyphs" >analysis</text>
<text x="0" y="0" font-size="9.8" fill="#c0304e" stroke="#c0304e" stroke-width="0.3" text-anchor="middle" transform="translate(24.00 502.50) rotate(-90)" textLength="22.5" lengthAdjust="spacingAndGlyphs" >T-ALL</text>
<text x="0" y="0" font-size="9.8" fill="#5d74b2" stroke="#5d74b2" stroke-width="0.35" text-anchor="middle" transform="translate(23.90 615.60) rotate(-90)" textLength="21.8" lengthAdjust="spacingAndGlyphs" >T cell</text>
<text x="95.60" y="463.20" font-size="7.8" fill="#222" stroke="#222" stroke-width="0.03" text-anchor="middle" textLength="67.3" lengthAdjust="spacingAndGlyphs" text-decoration="underline" >pIGF1R(pY1131)</text>
<line x1="69.75" y1="471.20" x2="69.75" y2="535.00" stroke="#111" stroke-width="1.45" />
<line x1="66.40" y1="529.30" x2="70.00" y2="529.30" stroke="#1e1e1e" stroke-width="1" />
<text x="63.30" y="531.50" font-size="6.8" fill="#2a2a2a" stroke="#2a2a2a" stroke-width="0.18" text-anchor="end" >0.4</text>
<line x1="66.40" y1="518.20" x2="70.00" y2="518.20" stroke="#1e1e1e" stroke-width="1" />
<text x="63.30" y="520.40" font-size="6.8" fill="#2a2a2a" stroke="#2a2a2a" stroke-width="0.18" text-anchor="end" >0.6</text>
<line x1="66.40" y1="507.10" x2="70.00" y2="507.10" stroke="#1e1e1e" stroke-width="1" />
<text x="63.30" y="509.30" font-size="6.8" fill="#2a2a2a" stroke="#2a2a2a" stroke-width="0.18" text-anchor="end" >0.8</text>
<line x1="66.40" y1="496.00" x2="70.00" y2="496.00" stroke="#1e1e1e" stroke-width="1" />
<text x="63.30" y="498.20" font-size="6.8" fill="#2a2a2a" stroke="#2a2a2a" stroke-width="0.18" text-anchor="end" >1.0</text>
<line x1="66.40" y1="484.90" x2="70.00" y2="484.90" stroke="#1e1e1e" stroke-width="1" />
<text x="63.30" y="487.10" font-size="6.8" fill="#2a2a2a" stroke="#2a2a2a" stroke-width="0.18" text-anchor="end" >1.2</text>
<line x1="66.40" y1="473.80" x2="70.00" y2="473.80" stroke="#1e1e1e" stroke-width="1" />
<text x="63.30" y="476.00" font-size="6.8" fill="#2a2a2a" stroke="#2a2a2a" stroke-width="0.18" text-anchor="end" >1.4</text>
<line x1="70.00" y1="534.40" x2="121.00" y2="534.40" stroke="#1e1e1e" stroke-width="1.2" />
<line x1="84.60" y1="534.40" x2="84.60" y2="537.20" stroke="#1e1e1e" stroke-width="1" />
<line x1="106.70" y1="534.40" x2="106.70" y2="537.20" stroke="#1e1e1e" stroke-width="1" />
<text x="0" y="0" font-size="9.6" fill="#2a2a2a" stroke="#2a2a2a" stroke-width="0.18" text-anchor="middle" transform="translate(37.10 502.00) rotate(-90)" textLength="16.2" lengthAdjust="spacingAndGlyphs" >GMFI</text>
<text x="0" y="0" font-size="7.8" fill="#2a2a2a" stroke="#2a2a2a" stroke-width="0.18" text-anchor="middle" transform="translate(47.80 502.90) rotate(-90)" textLength="76.9" lengthAdjust="spacingAndGlyphs" >(normalized to 'control')</text>
<rect x="77.40" y="497.47" width="14.40" height="36.93" fill="none" stroke="#1e1e1e" stroke-width="1" />
<rect x="99.50" y="503.85" width="14.50" height="30.55" fill="none" stroke="#1e1e1e" stroke-width="1" />
<line x1="84.60" y1="473.80" x2="106.60" y2="473.80" stroke="#555" stroke-width="1.3" />
<circle cx="95.60" cy="470.60" r="0.8" fill="#2a2a2a"/>
<circle cx="83.70" cy="481.10" r="1.75" fill="#3fa33f" stroke="#222" stroke-width="0.5"/>
<circle cx="85.20" cy="482.80" r="1.75" fill="#8ee0e8" stroke="#222" stroke-width="0.5"/>
<circle cx="83.70" cy="489.70" r="1.75" fill="#6f79cf" stroke="#222" stroke-width="0.5"/>
<circle cx="85.40" cy="490.60" r="1.75" fill="#9a4e16" stroke="#222" stroke-width="0.5"/>
<circle cx="78.20" cy="495.80" r="1.75" fill="#444444" stroke="#222" stroke-width="0.5"/>
<circle cx="80.60" cy="495.80" r="1.75" fill="#c0302a" stroke="#222" stroke-width="0.5"/>
<circle cx="82.60" cy="495.80" r="1.75" fill="#555555" stroke="#222" stroke-width="0.5"/>
<circle cx="84.50" cy="495.80" r="1.75" fill="#f0901a" stroke="#222" stroke-width="0.5"/>
<circle cx="86.60" cy="495.80" r="1.75" fill="#3fa33f" stroke="#222" stroke-width="0.5"/>
<circle cx="88.80" cy="495.80" r="1.75" fill="#555555" stroke="#222" stroke-width="0.5"/>
<circle cx="90.90" cy="495.80" r="1.75" fill="#444444" stroke="#222" stroke-width="0.5"/>
<circle cx="85.20" cy="500.10" r="1.75" fill="#9a4e16" stroke="#222" stroke-width="0.5"/>
<circle cx="83.70" cy="502.00" r="1.75" fill="#6f79cf" stroke="#222" stroke-width="0.5"/>
<circle cx="85.20" cy="507.40" r="1.75" fill="#3fa33f" stroke="#222" stroke-width="0.5"/>
<circle cx="83.70" cy="508.70" r="1.75" fill="#8ee0e8" stroke="#222" stroke-width="0.5"/>
<circle cx="106.30" cy="486.70" r="1.75" fill="#f0901a" stroke="#222" stroke-width="0.5"/>
<circle cx="100.10" cy="490.80" r="1.75" fill="#3fa33f" stroke="#222" stroke-width="0.5"/>
<circle cx="106.30" cy="492.30" r="1.75" fill="#6f79cf" stroke="#222" stroke-width="0.5"/>
<circle cx="112.40" cy="491.90" r="1.75" fill="#ffffff" stroke="#222" stroke-width="0.5"/>
<circle cx="103.10" cy="496.20" r="1.75" fill="#3fa33f" stroke="#222" stroke-width="0.5"/>
<circle cx="109.20" cy="496.20" r="1.75" fill="#555555" stroke="#222" stroke-width="0.5"/>
<circle cx="106.30" cy="498.80" r="1.75" fill="#8ee0e8" stroke="#222" stroke-width="0.5"/>
<circle cx="112.40" cy="502.70" r="1.75" fill="#9a4e16" stroke="#222" stroke-width="0.5"/>
<circle cx="106.30" cy="501.80" r="1.75" fill="#f2e262" stroke="#222" stroke-width="0.5"/>
<circle cx="100.10" cy="503.40" r="1.75" fill="#a3174f" stroke="#222" stroke-width="0.5"/>
<circle cx="112.40" cy="505.30" r="1.75" fill="#f0901a" stroke="#222" stroke-width="0.5"/>
<circle cx="106.30" cy="506.00" r="1.75" fill="#6f79cf" stroke="#222" stroke-width="0.5"/>
<circle cx="112.40" cy="508.30" r="1.75" fill="#6f79cf" stroke="#222" stroke-width="0.5"/>
<circle cx="106.30" cy="508.70" r="1.75" fill="#8ee0e8" stroke="#222" stroke-width="0.5"/>
<circle cx="106.30" cy="513.10" r="1.75" fill="#9a4e16" stroke="#222" stroke-width="0.5"/>
<circle cx="106.30" cy="533.50" r="1.75" fill="#6f79cf" stroke="#222" stroke-width="0.5"/>
<line x1="69.70" y1="496.00" x2="122.50" y2="496.00" stroke="#d04466" stroke-width="1.1" stroke-dasharray="3.6,2.3" opacity="0.9"/>
<text x="0" y="0" font-size="7" fill="#2a2a2a" stroke="#2a2a2a" stroke-width="0.12" text-anchor="end" transform="translate(88.50 544.90) rotate(-45)" >control</text>
<text x="0" y="0" font-size="7" fill="#2a2a2a" stroke="#2a2a2a" stroke-width="0.12" text-anchor="end" transform="translate(108.80 543.20) rotate(-45)" >clodlip</text>
<text x="201.80" y="463.20" font-size="7.8" fill="#222" stroke="#222" stroke-width="0.03" text-anchor="middle" textLength="54.2" lengthAdjust="spacingAndGlyphs" text-decoration="underline" >pAKT(pS473)</text>
<line x1="175.95" y1="471.20" x2="175.95" y2="535.00" stroke="#111" stroke-width="1.45" />
<line x1="172.60" y1="529.30" x2="176.20" y2="529.30" stroke="#1e1e1e" stroke-width="1" />
<text x="169.50" y="531.50" font-size="6.8" fill="#2a2a2a" stroke="#2a2a2a" stroke-width="0.18" text-anchor="end" >0.4</text>
<line x1="172.60" y1="518.20" x2="176.20" y2="518.20" stroke="#1e1e1e" stroke-width="1" />
<text x="169.50" y="520.40" font-size="6.8" fill="#2a2a2a" stroke="#2a2a2a" stroke-width="0.18" text-anchor="end" >0.6</text>
<line x1="172.60" y1="507.10" x2="176.20" y2="507.10" stroke="#1e1e1e" stroke-width="1" />
<text x="169.50" y="509.30" font-size="6.8" fill="#2a2a2a" stroke="#2a2a2a" stroke-width="0.18" text-anchor="end" >0.8</text>
<line x1="172.60" y1="496.00" x2="176.20" y2="496.00" stroke="#1e1e1e" stroke-width="1" />
<text x="169.50" y="498.20" font-size="6.8" fill="#2a2a2a" stroke="#2a2a2a" stroke-width="0.18" text-anchor="end" >1.0</text>
<line x1="172.60" y1="484.90" x2="176.20" y2="484.90" stroke="#1e1e1e" stroke-width="1" />
<text x="169.50" y="487.10" font-size="6.8" fill="#2a2a2a" stroke="#2a2a2a" stroke-width="0.18" text-anchor="end" >1.2</text>
<line x1="172.60" y1="473.80" x2="176.20" y2="473.80" stroke="#1e1e1e" stroke-width="1" />
<text x="169.50" y="476.00" font-size="6.8" fill="#2a2a2a" stroke="#2a2a2a" stroke-width="0.18" text-anchor="end" >1.4</text>
<line x1="176.20" y1="534.40" x2="227.20" y2="534.40" stroke="#1e1e1e" stroke-width="1.2" />
<line x1="190.80" y1="534.40" x2="190.80" y2="537.20" stroke="#1e1e1e" stroke-width="1" />
<line x1="212.90" y1="534.40" x2="212.90" y2="537.20" stroke="#1e1e1e" stroke-width="1" />
<text x="0" y="0" font-size="9.6" fill="#2a2a2a" stroke="#2a2a2a" stroke-width="0.18" text-anchor="middle" transform="translate(143.30 502.00) rotate(-90)" textLength="16.2" lengthAdjust="spacingAndGlyphs" >GMFI</text>
<text x="0" y="0" font-size="7.8" fill="#2a2a2a" stroke="#2a2a2a" stroke-width="0.18" text-anchor="middle" transform="translate(154.00 502.90) rotate(-90)" textLength="76.9" lengthAdjust="spacingAndGlyphs" >(normalized to 'control')</text>
<rect x="183.60" y="495.80" width="14.40" height="38.60" fill="none" stroke="#1e1e1e" stroke-width="1" />
<rect x="205.70" y="503.85" width="14.50" height="30.55" fill="none" stroke="#1e1e1e" stroke-width="1" />
<line x1="190.80" y1="473.80" x2="212.80" y2="473.80" stroke="#555" stroke-width="1.3" />
<circle cx="201.80" cy="470.60" r="0.8" fill="#2a2a2a"/>
<circle cx="190.60" cy="489.10" r="1.75" fill="#3fa33f" stroke="#222" stroke-width="0.5"/>
<circle cx="192.20" cy="490.50" r="1.75" fill="#9a4e16" stroke="#222" stroke-width="0.5"/>
<circle cx="190.40" cy="492.10" r="1.75" fill="#8ee0e8" stroke="#222" stroke-width="0.5"/>
<circle cx="193.20" cy="494.70" r="1.75" fill="#6f79cf" stroke="#222" stroke-width="0.5"/>
<circle cx="184.10" cy="496.00" r="1.75" fill="#c0302a" stroke="#222" stroke-width="0.5"/>
<circle cx="186.90" cy="496.00" r="1.75" fill="#555555" stroke="#222" stroke-width="0.5"/>
<circle cx="189.90" cy="496.00" r="1.75" fill="#c0302a" stroke="#222" stroke-width="0.5"/>
<circle cx="195.80" cy="496.00" r="1.75" fill="#f0901a" stroke="#222" stroke-width="0.5"/>
<circle cx="197.90" cy="496.00" r="1.75" fill="#444444" stroke="#222" stroke-width="0.5"/>
<circle cx="191.40" cy="497.70" r="1.75" fill="#3fa33f" stroke="#222" stroke-width="0.5"/>
<circle cx="193.00" cy="499.70" r="1.75" fill="#8ee0e8" stroke="#222" stroke-width="0.5"/>
<circle cx="188.90" cy="500.60" r="1.75" fill="#3fa33f" stroke="#222" stroke-width="0.5"/>
<circle cx="211.30" cy="490.20" r="1.75" fill="#8ee0e8" stroke="#222" stroke-width="0.5"/>
<circle cx="214.80" cy="490.20" r="1.75" fill="#3fa33f" stroke="#222" stroke-width="0.5"/>
<circle cx="213.10" cy="493.40" r="1.75" fill="#6f79cf" stroke="#222" stroke-width="0.5"/>
<circle cx="216.50" cy="493.00" r="1.75" fill="#3fa33f" stroke="#222" stroke-width="0.5"/>
<circle cx="210.00" cy="497.30" r="1.75" fill="#ffffff" stroke="#222" stroke-width="0.5"/>
<circle cx="213.10" cy="496.30" r="1.75" fill="#f0901a" stroke="#222" stroke-width="0.5"/>
<circle cx="216.40" cy="496.30" r="1.75" fill="#6f79cf" stroke="#222" stroke-width="0.5"/>
<circle cx="213.50" cy="500.30" r="1.75" fill="#555555" stroke="#222" stroke-width="0.5"/>
<circle cx="215.70" cy="501.20" r="1.75" fill="#9a4e16" stroke="#222" stroke-width="0.5"/>
<circle cx="207.00" cy="503.50" r="1.75" fill="#f0901a" stroke="#222" stroke-width="0.5"/>
<circle cx="210.00" cy="503.80" r="1.75" fill="#f2e262" stroke="#222" stroke-width="0.5"/>
<circle cx="213.10" cy="503.40" r="1.75" fill="#555555" stroke="#222" stroke-width="0.5"/>
<circle cx="216.10" cy="504.20" r="1.75" fill="#8ee0e8" stroke="#222" stroke-width="0.5"/>
<circle cx="219.60" cy="503.20" r="1.75" fill="#a3174f" stroke="#222" stroke-width="0.5"/>
<circle cx="211.80" cy="510.30" r="1.75" fill="#6f79cf" stroke="#222" stroke-width="0.5"/>
<circle cx="214.80" cy="511.80" r="1.75" fill="#9a4e16" stroke="#222" stroke-width="0.5"/>
<circle cx="211.80" cy="529.00" r="1.75" fill="#6f79cf" stroke="#222" stroke-width="0.5"/>
<line x1="175.90" y1="496.00" x2="228.70" y2="496.00" stroke="#d04466" stroke-width="1.1" stroke-dasharray="3.6,2.3" opacity="0.9"/>
<text x="0" y="0" font-size="7" fill="#2a2a2a" stroke="#2a2a2a" stroke-width="0.12" text-anchor="end" transform="translate(194.70 544.90) rotate(-45)" >control</text>
<text x="0" y="0" font-size="7" fill="#2a2a2a" stroke="#2a2a2a" stroke-width="0.12" text-anchor="end" transform="translate(215.00 543.20) rotate(-45)" >clodlip</text>
<text x="301.80" y="463.20" font-size="7.8" fill="#222" stroke="#222" stroke-width="0.03" text-anchor="middle" textLength="82.3" lengthAdjust="spacingAndGlyphs" text-decoration="underline" >pERK(pT202/pY204)</text>
<line x1="275.95" y1="471.20" x2="275.95" y2="535.00" stroke="#111" stroke-width="1.45" />
<line x1="272.60" y1="529.30" x2="276.20" y2="529.30" stroke="#1e1e1e" stroke-width="1" />
<text x="269.50" y="531.50" font-size="6.8" fill="#2a2a2a" stroke="#2a2a2a" stroke-width="0.18" text-anchor="end" >0.4</text>
<line x1="272.60" y1="518.20" x2="276.20" y2="518.20" stroke="#1e1e1e" stroke-width="1" />
<text x="269.50" y="520.40" font-size="6.8" fill="#2a2a2a" stroke="#2a2a2a" stroke-width="0.18" text-anchor="end" >0.6</text>
<line x1="272.60" y1="507.10" x2="276.20" y2="507.10" stroke="#1e1e1e" stroke-width="1" />
<text x="269.50" y="509.30" font-size="6.8" fill="#2a2a2a" stroke="#2a2a2a" stroke-width="0.18" text-anchor="end" >0.8</text>
<line x1="272.60" y1="496.00" x2="276.20" y2="496.00" stroke="#1e1e1e" stroke-width="1" />
<text x="269.50" y="498.20" font-size="6.8" fill="#2a2a2a" stroke="#2a2a2a" stroke-width="0.18" text-anchor="end" >1.0</text>
<line x1="272.60" y1="484.90" x2="276.20" y2="484.90" stroke="#1e1e1e" stroke-width="1" />
<text x="269.50" y="487.10" font-size="6.8" fill="#2a2a2a" stroke="#2a2a2a" stroke-width="0.18" text-anchor="end" >1.2</text>
<line x1="272.60" y1="473.80" x2="276.20" y2="473.80" stroke="#1e1e1e" stroke-width="1" />
<text x="269.50" y="476.00" font-size="6.8" fill="#2a2a2a" stroke="#2a2a2a" stroke-width="0.18" text-anchor="end" >1.4</text>
<line x1="276.20" y1="534.40" x2="327.20" y2="534.40" stroke="#1e1e1e" stroke-width="1.2" />
<line x1="290.80" y1="534.40" x2="290.80" y2="537.20" stroke="#1e1e1e" stroke-width="1" />
<line x1="312.90" y1="534.40" x2="312.90" y2="537.20" stroke="#1e1e1e" stroke-width="1" />
<text x="0" y="0" font-size="9.6" fill="#2a2a2a" stroke="#2a2a2a" stroke-width="0.18" text-anchor="middle" transform="translate(243.30 502.00) rotate(-90)" textLength="16.2" lengthAdjust="spacingAndGlyphs" >GMFI</text>
<text x="0" y="0" font-size="7.8" fill="#2a2a2a" stroke="#2a2a2a" stroke-width="0.18" text-anchor="middle" transform="translate(254.00 502.90) rotate(-90)" textLength="76.9" lengthAdjust="spacingAndGlyphs" >(normalized to 'control')</text>
<rect x="283.60" y="496.36" width="14.40" height="38.04" fill="none" stroke="#1e1e1e" stroke-width="1" />
<rect x="305.70" y="499.13" width="14.50" height="35.27" fill="none" stroke="#1e1e1e" stroke-width="1" />
<line x1="290.80" y1="473.80" x2="312.80" y2="473.80" stroke="#555" stroke-width="1.3" />
<text x="301.80" y="471.60" font-size="5.0" fill="#2a2a2a" text-anchor="middle" >ns</text>
<circle cx="289.30" cy="491.60" r="1.75" fill="#9a4e16" stroke="#222" stroke-width="0.5"/>
<circle cx="293.30" cy="491.00" r="1.75" fill="#8ee0e8" stroke="#222" stroke-width="0.5"/>
<circle cx="290.60" cy="493.00" r="1.75" fill="#3fa33f" stroke="#222" stroke-width="0.5"/>
<circle cx="284.40" cy="495.70" r="1.75" fill="#a3174f" stroke="#222" stroke-width="0.5"/>
<circle cx="287.00" cy="495.70" r="1.75" fill="#555555" stroke="#222" stroke-width="0.5"/>
<circle cx="289.70" cy="495.70" r="1.75" fill="#c0302a" stroke="#222" stroke-width="0.5"/>
<circle cx="294.30" cy="495.70" r="1.75" fill="#f0901a" stroke="#222" stroke-width="0.5"/>
<circle cx="297.60" cy="495.70" r="1.75" fill="#f2e262" stroke="#222" stroke-width="0.5"/>
<circle cx="289.30" cy="497.80" r="1.75" fill="#6f79cf" stroke="#222" stroke-width="0.5"/>
<circle cx="291.40" cy="500.60" r="1.75" fill="#8ee0e8" stroke="#222" stroke-width="0.5"/>
<circle cx="290.90" cy="503.10" r="1.75" fill="#3fa33f" stroke="#222" stroke-width="0.5"/>
<circle cx="313.10" cy="478.40" r="1.75" fill="#8ee0e8" stroke="#222" stroke-width="0.5"/>
<circle cx="313.10" cy="487.50" r="1.75" fill="#8ee0e8" stroke="#222" stroke-width="0.5"/>
<circle cx="315.30" cy="489.70" r="1.75" fill="#3fa33f" stroke="#222" stroke-width="0.5"/>
<circle cx="306.70" cy="491.30" r="1.75" fill="#ffffff" stroke="#222" stroke-width="0.5"/>
<circle cx="311.50" cy="491.00" r="1.75" fill="#6f79cf" stroke="#222" stroke-width="0.5"/>
<circle cx="319.20" cy="492.00" r="1.75" fill="#555555" stroke="#222" stroke-width="0.5"/>
<circle cx="310.80" cy="493.40" r="1.75" fill="#f0901a" stroke="#222" stroke-width="0.5"/>
<circle cx="315.10" cy="492.60" r="1.75" fill="#6f79cf" stroke="#222" stroke-width="0.5"/>
<circle cx="313.10" cy="495.80" r="1.75" fill="#a3174f" stroke="#222" stroke-width="0.5"/>
<circle cx="313.10" cy="498.20" r="1.75" fill="#3fa33f" stroke="#222" stroke-width="0.5"/>
<circle cx="313.10" cy="501.10" r="1.75" fill="#9a4e16" stroke="#222" stroke-width="0.5"/>
<circle cx="313.10" cy="504.40" r="1.75" fill="#f2e262" stroke="#222" stroke-width="0.5"/>
<circle cx="313.10" cy="507.10" r="1.75" fill="#9a4e16" stroke="#222" stroke-width="0.5"/>
<circle cx="310.80" cy="515.70" r="1.75" fill="#f0901a" stroke="#222" stroke-width="0.5"/>
<circle cx="315.10" cy="517.10" r="1.75" fill="#a3174f" stroke="#222" stroke-width="0.5"/>
<circle cx="313.10" cy="526.90" r="1.75" fill="#6f79cf" stroke="#222" stroke-width="0.5"/>
<line x1="275.90" y1="496.00" x2="328.70" y2="496.00" stroke="#d04466" stroke-width="1.1" stroke-dasharray="3.6,2.3" opacity="0.9"/>
<text x="0" y="0" font-size="7" fill="#2a2a2a" stroke="#2a2a2a" stroke-width="0.12" text-anchor="end" transform="translate(294.70 544.90) rotate(-45)" >control</text>
<text x="0" y="0" font-size="7" fill="#2a2a2a" stroke="#2a2a2a" stroke-width="0.12" text-anchor="end" transform="translate(315.00 543.20) rotate(-45)" >clodlip</text>
<text x="95.60" y="575.70" font-size="7.8" fill="#222" stroke="#222" stroke-width="0.03" text-anchor="middle" textLength="67.3" lengthAdjust="spacingAndGlyphs" text-decoration="underline" >pIGF1R(pY1131)</text>
<line x1="69.75" y1="584.20" x2="69.75" y2="648.00" stroke="#111" stroke-width="1.45" />
<line x1="66.40" y1="642.30" x2="70.00" y2="642.30" stroke="#1e1e1e" stroke-width="1" />
<text x="63.30" y="644.50" font-size="6.8" fill="#2a2a2a" stroke="#2a2a2a" stroke-width="0.18" text-anchor="end" >0.4</text>
<line x1="66.40" y1="631.20" x2="70.00" y2="631.20" stroke="#1e1e1e" stroke-width="1" />
<text x="63.30" y="633.40" font-size="6.8" fill="#2a2a2a" stroke="#2a2a2a" stroke-width="0.18" text-anchor="end" >0.6</text>
<line x1="66.40" y1="620.10" x2="70.00" y2="620.10" stroke="#1e1e1e" stroke-width="1" />
<text x="63.30" y="622.30" font-size="6.8" fill="#2a2a2a" stroke="#2a2a2a" stroke-width="0.18" text-anchor="end" >0.8</text>
<line x1="66.40" y1="609.00" x2="70.00" y2="609.00" stroke="#1e1e1e" stroke-width="1" />
<text x="63.30" y="611.20" font-size="6.8" fill="#2a2a2a" stroke="#2a2a2a" stroke-width="0.18" text-anchor="end" >1.0</text>
<line x1="66.40" y1="597.90" x2="70.00" y2="597.90" stroke="#1e1e1e" stroke-width="1" />
<text x="63.30" y="600.10" font-size="6.8" fill="#2a2a2a" stroke="#2a2a2a" stroke-width="0.18" text-anchor="end" >1.2</text>
<line x1="66.40" y1="586.80" x2="70.00" y2="586.80" stroke="#1e1e1e" stroke-width="1" />
<text x="63.30" y="589.00" font-size="6.8" fill="#2a2a2a" stroke="#2a2a2a" stroke-width="0.18" text-anchor="end" >1.4</text>
<line x1="70.00" y1="647.40" x2="121.00" y2="647.40" stroke="#1e1e1e" stroke-width="1.2" />
<line x1="84.60" y1="647.40" x2="84.60" y2="650.20" stroke="#1e1e1e" stroke-width="1" />
<line x1="106.70" y1="647.40" x2="106.70" y2="650.20" stroke="#1e1e1e" stroke-width="1" />
<text x="0" y="0" font-size="9.6" fill="#2a2a2a" stroke="#2a2a2a" stroke-width="0.18" text-anchor="middle" transform="translate(37.10 615.00) rotate(-90)" textLength="16.2" lengthAdjust="spacingAndGlyphs" >GMFI</text>
<text x="0" y="0" font-size="7.8" fill="#2a2a2a" stroke="#2a2a2a" stroke-width="0.18" text-anchor="middle" transform="translate(47.80 615.90) rotate(-90)" textLength="76.9" lengthAdjust="spacingAndGlyphs" >(normalized to 'control')</text>
<rect x="77.40" y="608.80" width="14.40" height="38.60" fill="none" stroke="#1e1e1e" stroke-width="1" />
<rect x="99.50" y="606.30" width="14.50" height="41.10" fill="none" stroke="#1e1e1e" stroke-width="1" />
<line x1="84.60" y1="586.80" x2="106.60" y2="586.80" stroke="#555" stroke-width="1.3" />
<text x="95.60" y="584.60" font-size="5.0" fill="#2a2a2a" text-anchor="middle" >ns</text>
<circle cx="85.90" cy="603.10" r="1.75" fill="#3fa33f" stroke="#222" stroke-width="0.5"/>
<circle cx="83.10" cy="605.20" r="1.75" fill="#6f79cf" stroke="#222" stroke-width="0.5"/>
<circle cx="85.90" cy="606.00" r="1.75" fill="#8ee0e8" stroke="#222" stroke-width="0.5"/>
<circle cx="77.80" cy="609.00" r="1.75" fill="#c0302a" stroke="#222" stroke-width="0.5"/>
<circle cx="80.60" cy="609.00" r="1.75" fill="#555555" stroke="#222" stroke-width="0.5"/>
<circle cx="83.50" cy="609.00" r="1.75" fill="#9a4e16" stroke="#222" stroke-width="0.5"/>
<circle cx="86.50" cy="609.00" r="1.75" fill="#c0302a" stroke="#222" stroke-width="0.5"/>
<circle cx="87.90" cy="609.00" r="1.75" fill="#f0901a" stroke="#222" stroke-width="0.5"/>
<circle cx="91.00" cy="609.00" r="1.75" fill="#f2e262" stroke="#222" stroke-width="0.5"/>
<circle cx="83.10" cy="611.40" r="1.75" fill="#9a4e16" stroke="#222" stroke-width="0.5"/>
<circle cx="84.30" cy="612.40" r="1.75" fill="#6f79cf" stroke="#222" stroke-width="0.5"/>
<circle cx="85.90" cy="611.70" r="1.75" fill="#8ee0e8" stroke="#222" stroke-width="0.5"/>
<circle cx="84.50" cy="618.80" r="1.75" fill="#3fa33f" stroke="#222" stroke-width="0.5"/>
<circle cx="106.60" cy="593.50" r="1.75" fill="#6f79cf" stroke="#222" stroke-width="0.5"/>
<circle cx="112.90" cy="597.30" r="1.75" fill="#444444" stroke="#222" stroke-width="0.5"/>
<circle cx="106.60" cy="598.90" r="1.75" fill="#3fa33f" stroke="#222" stroke-width="0.5"/>
<circle cx="103.70" cy="602.80" r="1.75" fill="#6f79cf" stroke="#222" stroke-width="0.5"/>
<circle cx="109.70" cy="602.80" r="1.75" fill="#8ee0e8" stroke="#222" stroke-width="0.5"/>
<circle cx="100.70" cy="605.70" r="1.75" fill="#6f79cf" stroke="#222" stroke-width="0.5"/>
<circle cx="106.60" cy="605.20" r="1.75" fill="#8ee0e8" stroke="#222" stroke-width="0.5"/>
<circle cx="112.90" cy="605.20" r="1.75" fill="#f0901a" stroke="#222" stroke-width="0.5"/>
<circle cx="100.70" cy="608.80" r="1.75" fill="#c0302a" stroke="#222" stroke-width="0.5"/>
<circle cx="106.60" cy="608.00" r="1.75" fill="#3fa33f" stroke="#222" stroke-width="0.5"/>
<circle cx="112.90" cy="608.80" r="1.75" fill="#6f79cf" stroke="#222" stroke-width="0.5"/>
<circle cx="100.70" cy="611.40" r="1.75" fill="#a3174f" stroke="#222" stroke-width="0.5"/>
<circle cx="106.60" cy="610.80" r="1.75" fill="#9a4e16" stroke="#222" stroke-width="0.5"/>
<circle cx="112.90" cy="611.90" r="1.75" fill="#f2e262" stroke="#222" stroke-width="0.5"/>
<circle cx="103.50" cy="623.00" r="1.75" fill="#9a4e16" stroke="#222" stroke-width="0.5"/>
<circle cx="109.70" cy="623.00" r="1.75" fill="#f0901a" stroke="#222" stroke-width="0.5"/>
<line x1="69.70" y1="609.00" x2="122.50" y2="609.00" stroke="#d04466" stroke-width="1.1" stroke-dasharray="3.6,2.3" opacity="0.9"/>
<text x="0" y="0" font-size="7" fill="#2a2a2a" stroke="#2a2a2a" stroke-width="0.12" text-anchor="end" transform="translate(88.50 657.90) rotate(-45)" >control</text>
<text x="0" y="0" font-size="7" fill="#2a2a2a" stroke="#2a2a2a" stroke-width="0.12" text-anchor="end" transform="translate(108.80 656.20) rotate(-45)" >clodlip</text>
<text x="201.80" y="575.70" font-size="7.8" fill="#222" stroke="#222" stroke-width="0.03" text-anchor="middle" textLength="54.2" lengthAdjust="spacingAndGlyphs" text-decoration="underline" >pAKT(pS473)</text>
<line x1="175.95" y1="584.20" x2="175.95" y2="648.00" stroke="#111" stroke-width="1.45" />
<line x1="172.60" y1="642.30" x2="176.20" y2="642.30" stroke="#1e1e1e" stroke-width="1" />
<text x="169.50" y="644.50" font-size="6.8" fill="#2a2a2a" stroke="#2a2a2a" stroke-width="0.18" text-anchor="end" >0.4</text>
<line x1="172.60" y1="631.20" x2="176.20" y2="631.20" stroke="#1e1e1e" stroke-width="1" />
<text x="169.50" y="633.40" font-size="6.8" fill="#2a2a2a" stroke="#2a2a2a" stroke-width="0.18" text-anchor="end" >0.6</text>
<line x1="172.60" y1="620.10" x2="176.20" y2="620.10" stroke="#1e1e1e" stroke-width="1" />
<text x="169.50" y="622.30" font-size="6.8" fill="#2a2a2a" stroke="#2a2a2a" stroke-width="0.18" text-anchor="end" >0.8</text>
<line x1="172.60" y1="609.00" x2="176.20" y2="609.00" stroke="#1e1e1e" stroke-width="1" />
<text x="169.50" y="611.20" font-size="6.8" fill="#2a2a2a" stroke="#2a2a2a" stroke-width="0.18" text-anchor="end" >1.0</text>
<line x1="172.60" y1="597.90" x2="176.20" y2="597.90" stroke="#1e1e1e" stroke-width="1" />
<text x="169.50" y="600.10" font-size="6.8" fill="#2a2a2a" stroke="#2a2a2a" stroke-width="0.18" text-anchor="end" >1.2</text>
<line x1="172.60" y1="586.80" x2="176.20" y2="586.80" stroke="#1e1e1e" stroke-width="1" />
<text x="169.50" y="589.00" font-size="6.8" fill="#2a2a2a" stroke="#2a2a2a" stroke-width="0.18" text-anchor="end" >1.4</text>
<line x1="176.20" y1="647.40" x2="227.20" y2="647.40" stroke="#1e1e1e" stroke-width="1.2" />
<line x1="190.80" y1="647.40" x2="190.80" y2="650.20" stroke="#1e1e1e" stroke-width="1" />
<line x1="212.90" y1="647.40" x2="212.90" y2="650.20" stroke="#1e1e1e" stroke-width="1" />
<text x="0" y="0" font-size="9.6" fill="#2a2a2a" stroke="#2a2a2a" stroke-width="0.18" text-anchor="middle" transform="translate(143.30 615.00) rotate(-90)" textLength="16.2" lengthAdjust="spacingAndGlyphs" >GMFI</text>
<text x="0" y="0" font-size="7.8" fill="#2a2a2a" stroke="#2a2a2a" stroke-width="0.18" text-anchor="middle" transform="translate(154.00 615.90) rotate(-90)" textLength="76.9" lengthAdjust="spacingAndGlyphs" >(normalized to 'control')</text>
<rect x="183.60" y="608.80" width="14.40" height="38.60" fill="none" stroke="#1e1e1e" stroke-width="1" />
<rect x="205.70" y="606.30" width="14.50" height="41.10" fill="none" stroke="#1e1e1e" stroke-width="1" />
<line x1="190.80" y1="586.80" x2="212.80" y2="586.80" stroke="#555" stroke-width="1.3" />
<text x="201.80" y="584.60" font-size="5.0" fill="#2a2a2a" text-anchor="middle" >ns</text>
<circle cx="191.00" cy="601.00" r="1.75" fill="#9a4e16" stroke="#222" stroke-width="0.5"/>
<circle cx="189.10" cy="605.00" r="1.75" fill="#6f79cf" stroke="#222" stroke-width="0.5"/>
<circle cx="192.40" cy="605.20" r="1.75" fill="#8ee0e8" stroke="#222" stroke-width="0.5"/>
<circle cx="184.70" cy="608.70" r="1.75" fill="#3fa33f" stroke="#222" stroke-width="0.5"/>
<circle cx="187.50" cy="608.70" r="1.75" fill="#c0302a" stroke="#222" stroke-width="0.5"/>
<circle cx="190.20" cy="608.70" r="1.75" fill="#555555" stroke="#222" stroke-width="0.5"/>
<circle cx="193.70" cy="608.70" r="1.75" fill="#c0302a" stroke="#222" stroke-width="0.5"/>
<circle cx="197.20" cy="608.70" r="1.75" fill="#f0901a" stroke="#222" stroke-width="0.5"/>
<circle cx="187.60" cy="613.70" r="1.75" fill="#3fa33f" stroke="#222" stroke-width="0.5"/>
<circle cx="192.40" cy="613.20" r="1.75" fill="#8ee0e8" stroke="#222" stroke-width="0.5"/>
<circle cx="194.30" cy="613.80" r="1.75" fill="#9a4e16" stroke="#222" stroke-width="0.5"/>
<circle cx="213.10" cy="590.40" r="1.75" fill="#9a4e16" stroke="#222" stroke-width="0.5"/>
<circle cx="213.10" cy="594.20" r="1.75" fill="#6f79cf" stroke="#222" stroke-width="0.5"/>
<circle cx="211.20" cy="596.80" r="1.75" fill="#3fa33f" stroke="#222" stroke-width="0.5"/>
<circle cx="215.50" cy="598.30" r="1.75" fill="#6f79cf" stroke="#222" stroke-width="0.5"/>
<circle cx="211.20" cy="600.20" r="1.75" fill="#6f79cf" stroke="#222" stroke-width="0.5"/>
<circle cx="215.50" cy="601.90" r="1.75" fill="#8ee0e8" stroke="#222" stroke-width="0.5"/>
<circle cx="213.10" cy="604.50" r="1.75" fill="#8ee0e8" stroke="#222" stroke-width="0.5"/>
<circle cx="215.50" cy="607.90" r="1.75" fill="#3fa33f" stroke="#222" stroke-width="0.5"/>
<circle cx="206.80" cy="610.60" r="1.75" fill="#ffffff" stroke="#222" stroke-width="0.5"/>
<circle cx="211.20" cy="610.60" r="1.75" fill="#555555" stroke="#222" stroke-width="0.5"/>
<circle cx="219.30" cy="610.60" r="1.75" fill="#f0901a" stroke="#222" stroke-width="0.5"/>
<circle cx="211.20" cy="612.20" r="1.75" fill="#f2e262" stroke="#222" stroke-width="0.5"/>
<circle cx="215.50" cy="612.20" r="1.75" fill="#6f79cf" stroke="#222" stroke-width="0.5"/>
<circle cx="211.20" cy="615.10" r="1.75" fill="#f0901a" stroke="#222" stroke-width="0.5"/>
<circle cx="215.50" cy="616.10" r="1.75" fill="#f0901a" stroke="#222" stroke-width="0.5"/>
<circle cx="213.10" cy="619.90" r="1.75" fill="#a3174f" stroke="#222" stroke-width="0.5"/>
<line x1="175.90" y1="609.00" x2="228.70" y2="609.00" stroke="#d04466" stroke-width="1.1" stroke-dasharray="3.6,2.3" opacity="0.9"/>
<text x="0" y="0" font-size="7" fill="#2a2a2a" stroke="#2a2a2a" stroke-width="0.12" text-anchor="end" transform="translate(194.70 657.90) rotate(-45)" >control</text>
<text x="0" y="0" font-size="7" fill="#2a2a2a" stroke="#2a2a2a" stroke-width="0.12" text-anchor="end" transform="translate(215.00 656.20) rotate(-45)" >clodlip</text>
<text x="301.80" y="575.70" font-size="7.8" fill="#222" stroke="#222" stroke-width="0.03" text-anchor="middle" textLength="82.3" lengthAdjust="spacingAndGlyphs" text-decoration="underline" >pERK(pT202/pY204)</text>
<line x1="275.95" y1="584.20" x2="275.95" y2="648.00" stroke="#111" stroke-width="1.45" />
<line x1="272.60" y1="642.30" x2="276.20" y2="642.30" stroke="#1e1e1e" stroke-width="1" />
<text x="269.50" y="644.50" font-size="6.8" fill="#2a2a2a" stroke="#2a2a2a" stroke-width="0.18" text-anchor="end" >0.4</text>
<line x1="272.60" y1="631.20" x2="276.20" y2="631.20" stroke="#1e1e1e" stroke-width="1" />
<text x="269.50" y="633.40" font-size="6.8" fill="#2a2a2a" stroke="#2a2a2a" stroke-width="0.18" text-anchor="end" >0.6</text>
<line x1="272.60" y1="620.10" x2="276.20" y2="620.10" stroke="#1e1e1e" stroke-width="1" />
<text x="269.50" y="622.30" font-size="6.8" fill="#2a2a2a" stroke="#2a2a2a" stroke-width="0.18" text-anchor="end" >0.8</text>
<line x1="272.60" y1="609.00" x2="276.20" y2="609.00" stroke="#1e1e1e" stroke-width="1" />
<text x="269.50" y="611.20" font-size="6.8" fill="#2a2a2a" stroke="#2a2a2a" stroke-width="0.18" text-anchor="end" >1.0</text>
<line x1="272.60" y1="597.90" x2="276.20" y2="597.90" stroke="#1e1e1e" stroke-width="1" />
<text x="269.50" y="600.10" font-size="6.8" fill="#2a2a2a" stroke="#2a2a2a" stroke-width="0.18" text-anchor="end" >1.2</text>
<line x1="272.60" y1="586.80" x2="276.20" y2="586.80" stroke="#1e1e1e" stroke-width="1" />
<text x="269.50" y="589.00" font-size="6.8" fill="#2a2a2a" stroke="#2a2a2a" stroke-width="0.18" text-anchor="end" >1.4</text>
<line x1="276.20" y1="647.40" x2="327.20" y2="647.40" stroke="#1e1e1e" stroke-width="1.2" />
<line x1="290.80" y1="647.40" x2="290.80" y2="650.20" stroke="#1e1e1e" stroke-width="1" />
<line x1="312.90" y1="647.40" x2="312.90" y2="650.20" stroke="#1e1e1e" stroke-width="1" />
<text x="0" y="0" font-size="9.6" fill="#2a2a2a" stroke="#2a2a2a" stroke-width="0.18" text-anchor="middle" transform="translate(243.30 615.00) rotate(-90)" textLength="16.2" lengthAdjust="spacingAndGlyphs" >GMFI</text>
<text x="0" y="0" font-size="7.8" fill="#2a2a2a" stroke="#2a2a2a" stroke-width="0.18" text-anchor="middle" transform="translate(254.00 615.90) rotate(-90)" textLength="76.9" lengthAdjust="spacingAndGlyphs" >(normalized to 'control')</text>
<rect x="283.60" y="608.80" width="14.40" height="38.60" fill="none" stroke="#1e1e1e" stroke-width="1" />
<rect x="305.70" y="608.25" width="14.50" height="39.15" fill="none" stroke="#1e1e1e" stroke-width="1" />
<line x1="290.80" y1="586.80" x2="312.80" y2="586.80" stroke="#555" stroke-width="1.3" />
<text x="301.80" y="584.60" font-size="5.0" fill="#2a2a2a" text-anchor="middle" >ns</text>
<circle cx="290.90" cy="599.60" r="1.75" fill="#9a4e16" stroke="#222" stroke-width="0.5"/>
<circle cx="288.80" cy="604.50" r="1.75" fill="#8ee0e8" stroke="#222" stroke-width="0.5"/>
<circle cx="293.50" cy="604.70" r="1.75" fill="#6f79cf" stroke="#222" stroke-width="0.5"/>
<circle cx="287.30" cy="606.80" r="1.75" fill="#3fa33f" stroke="#222" stroke-width="0.5"/>
<circle cx="295.50" cy="607.00" r="1.75" fill="#3fa33f" stroke="#222" stroke-width="0.5"/>
<circle cx="284.40" cy="609.10" r="1.75" fill="#a3174f" stroke="#222" stroke-width="0.5"/>
<circle cx="287.20" cy="609.10" r="1.75" fill="#f0901a" stroke="#222" stroke-width="0.5"/>
<circle cx="292.40" cy="609.10" r="1.75" fill="#f0901a" stroke="#222" stroke-width="0.5"/>
<circle cx="295.70" cy="609.10" r="1.75" fill="#555555" stroke="#222" stroke-width="0.5"/>
<circle cx="288.80" cy="612.50" r="1.75" fill="#6f79cf" stroke="#222" stroke-width="0.5"/>
<circle cx="290.90" cy="613.50" r="1.75" fill="#8ee0e8" stroke="#222" stroke-width="0.5"/>
<circle cx="288.80" cy="616.10" r="1.75" fill="#9a4e16" stroke="#222" stroke-width="0.5"/>
<circle cx="293.10" cy="613.00" r="1.75" fill="#3fa33f" stroke="#222" stroke-width="0.5"/>
<circle cx="306.90" cy="596.30" r="1.75" fill="#3fa33f" stroke="#222" stroke-width="0.5"/>
<circle cx="306.90" cy="601.10" r="1.75" fill="#8ee0e8" stroke="#222" stroke-width="0.5"/>
<circle cx="306.90" cy="604.20" r="1.75" fill="#8ee0e8" stroke="#222" stroke-width="0.5"/>
<circle cx="306.90" cy="607.00" r="1.75" fill="#9a4e16" stroke="#222" stroke-width="0.5"/>
<circle cx="306.90" cy="610.90" r="1.75" fill="#3fa33f" stroke="#222" stroke-width="0.5"/>
<circle cx="313.10" cy="597.30" r="1.75" fill="#6f79cf" stroke="#222" stroke-width="0.5"/>
<circle cx="313.10" cy="600.40" r="1.75" fill="#555555" stroke="#222" stroke-width="0.5"/>
<circle cx="313.10" cy="603.70" r="1.75" fill="#6f79cf" stroke="#222" stroke-width="0.5"/>
<circle cx="313.10" cy="607.80" r="1.75" fill="#9a4e16" stroke="#222" stroke-width="0.5"/>
<circle cx="313.10" cy="611.40" r="1.75" fill="#f0901a" stroke="#222" stroke-width="0.5"/>
<circle cx="313.10" cy="614.00" r="1.75" fill="#f2e262" stroke="#222" stroke-width="0.5"/>
<circle cx="319.20" cy="595.70" r="1.75" fill="#6f79cf" stroke="#222" stroke-width="0.5"/>
<circle cx="319.20" cy="601.60" r="1.75" fill="#6f79cf" stroke="#222" stroke-width="0.5"/>
<circle cx="319.20" cy="610.40" r="1.75" fill="#ffffff" stroke="#222" stroke-width="0.5"/>
<circle cx="313.10" cy="626.20" r="1.75" fill="#a3174f" stroke="#222" stroke-width="0.5"/>
<circle cx="313.10" cy="640.30" r="1.75" fill="#f0901a" stroke="#222" stroke-width="0.5"/>
<line x1="275.90" y1="609.00" x2="328.70" y2="609.00" stroke="#d04466" stroke-width="1.1" stroke-dasharray="3.6,2.3" opacity="0.9"/>
<text x="0" y="0" font-size="7" fill="#2a2a2a" stroke="#2a2a2a" stroke-width="0.12" text-anchor="end" transform="translate(294.70 657.90) rotate(-45)" >control</text>
<text x="0" y="0" font-size="7" fill="#2a2a2a" stroke="#2a2a2a" stroke-width="0.12" text-anchor="end" transform="translate(315.00 656.20) rotate(-45)" >clodlip</text>
<line x1="399.60" y1="479.60" x2="399.60" y2="573.00" stroke="#1e1e1e" stroke-width="1.2" />
<line x1="396.40" y1="572.40" x2="399.60" y2="572.40" stroke="#1e1e1e" stroke-width="1" />
<text x="0" y="0" font-size="7.2" fill="#2a2a2a" stroke="#2a2a2a" stroke-width="0.18" text-anchor="end" transform="translate(393.60 574.60) scale(0.9 1)" >0</text>
<line x1="396.40" y1="554.20" x2="399.60" y2="554.20" stroke="#1e1e1e" stroke-width="1" />
<text x="0" y="0" font-size="7.2" fill="#2a2a2a" stroke="#2a2a2a" stroke-width="0.18" text-anchor="end" transform="translate(393.60 556.40) scale(0.9 1)" >10</text>
<line x1="396.40" y1="536.00" x2="399.60" y2="536.00" stroke="#1e1e1e" stroke-width="1" />
<text x="0" y="0" font-size="7.2" fill="#2a2a2a" stroke="#2a2a2a" stroke-width="0.18" text-anchor="end" transform="translate(393.60 538.20) scale(0.9 1)" >20</text>
<line x1="396.40" y1="517.80" x2="399.60" y2="517.80" stroke="#1e1e1e" stroke-width="1" />
<text x="0" y="0" font-size="7.2" fill="#2a2a2a" stroke="#2a2a2a" stroke-width="0.18" text-anchor="end" transform="translate(393.60 520.00) scale(0.9 1)" >30</text>
<line x1="396.40" y1="499.60" x2="399.60" y2="499.60" stroke="#1e1e1e" stroke-width="1" />
<text x="0" y="0" font-size="7.2" fill="#2a2a2a" stroke="#2a2a2a" stroke-width="0.18" text-anchor="end" transform="translate(393.60 501.80) scale(0.9 1)" >40</text>
<line x1="396.40" y1="481.40" x2="399.60" y2="481.40" stroke="#1e1e1e" stroke-width="1" />
<text x="0" y="0" font-size="7.2" fill="#2a2a2a" stroke="#2a2a2a" stroke-width="0.18" text-anchor="end" transform="translate(393.60 483.60) scale(0.9 1)" >50</text>
<line x1="399.60" y1="572.40" x2="512.80" y2="572.40" stroke="#1e1e1e" stroke-width="1.2" />
<line x1="425.70" y1="572.40" x2="425.70" y2="575.60" stroke="#1e1e1e" stroke-width="1" />
<line x1="485.70" y1="572.40" x2="485.70" y2="575.60" stroke="#1e1e1e" stroke-width="1" />
<text x="0" y="0" font-size="8.5" fill="#2a2a2a" stroke="#2a2a2a" stroke-width="0.18" text-anchor="middle" transform="translate(379.90 525.00) rotate(-90)" textLength="68.0" lengthAdjust="spacingAndGlyphs" ># of T-ALL cells (x 10<tspan dy="-3" font-size="5.5">4</tspan><tspan dy="3">)</tspan></text>
<rect x="407.70" y="570.31" width="13.80" height="2.09" fill="none" stroke="#1e1e1e" stroke-width="1" />
<line x1="414.60" y1="570.31" x2="414.60" y2="568.40" stroke="#1e1e1e" stroke-width="1" />
<line x1="411.40" y1="568.40" x2="417.80" y2="568.40" stroke="#1e1e1e" stroke-width="1" />
<rect x="429.60" y="567.49" width="15.00" height="4.91" fill="none" stroke="#1e1e1e" stroke-width="1" />
<line x1="437.10" y1="567.49" x2="437.10" y2="564.39" stroke="#1e1e1e" stroke-width="1" />
<line x1="433.90" y1="564.39" x2="440.30" y2="564.39" stroke="#1e1e1e" stroke-width="1" />
<rect x="467.70" y="547.65" width="14.30" height="24.75" fill="none" stroke="#1e1e1e" stroke-width="1" />
<line x1="474.85" y1="547.65" x2="474.85" y2="538.00" stroke="#1e1e1e" stroke-width="1" />
<line x1="471.65" y1="538.00" x2="478.05" y2="538.00" stroke="#1e1e1e" stroke-width="1" />
<rect x="490.30" y="535.45" width="13.90" height="36.95" fill="none" stroke="#1e1e1e" stroke-width="1" />
<line x1="497.25" y1="535.45" x2="497.25" y2="528.17" stroke="#1e1e1e" stroke-width="1" />
<line x1="494.05" y1="528.17" x2="500.45" y2="528.17" stroke="#1e1e1e" stroke-width="1" />
<circle cx="408.80" cy="571.90" r="1.75" fill="#e8251d" stroke="#222" stroke-width="0.5"/>
<circle cx="411.60" cy="571.20" r="1.75" fill="#3da84f" stroke="#222" stroke-width="0.5"/>
<circle cx="413.00" cy="566.40" r="1.75" fill="#f5c417" stroke="#222" stroke-width="0.5"/>
<circle cx="414.60" cy="571.90" r="1.75" fill="#6a2c96" stroke="#222" stroke-width="0.5"/>
<circle cx="416.20" cy="568.00" r="1.75" fill="#111111" stroke="#222" stroke-width="0.5"/>
<circle cx="417.60" cy="571.90" r="1.75" fill="#1c2c9c" stroke="#222" stroke-width="0.5"/>
<circle cx="420.40" cy="572.20" r="1.75" fill="#f2a7a4" stroke="#222" stroke-width="0.5"/>
<circle cx="437.00" cy="551.20" r="1.75" fill="#111111" stroke="#222" stroke-width="0.5"/>
<circle cx="431.50" cy="568.60" r="1.75" fill="#3da84f" stroke="#222" stroke-width="0.5"/>
<circle cx="438.80" cy="566.30" r="1.75" fill="#f5c417" stroke="#222" stroke-width="0.5"/>
<circle cx="431.50" cy="572.00" r="1.75" fill="#f2a7a4" stroke="#222" stroke-width="0.5"/>
<circle cx="435.40" cy="570.90" r="1.75" fill="#e8251d" stroke="#222" stroke-width="0.5"/>
<circle cx="439.20" cy="571.60" r="1.75" fill="#6a2c96" stroke="#222" stroke-width="0.5"/>
<circle cx="442.80" cy="571.70" r="1.75" fill="#1c2c9c" stroke="#222" stroke-width="0.5"/>
<circle cx="474.60" cy="493.80" r="1.75" fill="#1c2c9c" stroke="#222" stroke-width="0.5"/>
<circle cx="474.60" cy="546.50" r="1.75" fill="#6a2c96" stroke="#222" stroke-width="0.5"/>
<circle cx="474.60" cy="551.80" r="1.75" fill="#f2a7a4" stroke="#222" stroke-width="0.5"/>
<circle cx="474.60" cy="559.20" r="1.75" fill="#f5c417" stroke="#222" stroke-width="0.5"/>
<circle cx="480.40" cy="557.60" r="1.75" fill="#e8251d" stroke="#222" stroke-width="0.5"/>
<circle cx="480.40" cy="561.10" r="1.75" fill="#3da84f" stroke="#222" stroke-width="0.5"/>
<circle cx="468.80" cy="561.50" r="1.75" fill="#111111" stroke="#222" stroke-width="0.5"/>
<circle cx="497.30" cy="497.30" r="1.75" fill="#1c2c9c" stroke="#222" stroke-width="0.5"/>
<circle cx="491.50" cy="534.30" r="1.75" fill="#e8251d" stroke="#222" stroke-width="0.5"/>
<circle cx="497.20" cy="535.70" r="1.75" fill="#6a2c96" stroke="#222" stroke-width="0.5"/>
<circle cx="502.80" cy="533.80" r="1.75" fill="#111111" stroke="#222" stroke-width="0.5"/>
<circle cx="497.20" cy="540.80" r="1.75" fill="#f2a7a4" stroke="#222" stroke-width="0.5"/>
<circle cx="497.20" cy="547.70" r="1.75" fill="#3da84f" stroke="#222" stroke-width="0.5"/>
<circle cx="497.20" cy="554.20" r="1.75" fill="#f5c417" stroke="#222" stroke-width="0.5"/>
<line x1="414.60" y1="465.20" x2="497.30" y2="465.20" stroke="#333" stroke-width="1.0" />
<circle cx="453.40" cy="462.20" r="0.8" fill="#2a2a2a"/>
<circle cx="456.00" cy="462.20" r="0.8" fill="#2a2a2a"/>
<circle cx="458.60" cy="462.20" r="0.8" fill="#2a2a2a"/>
<line x1="437.30" y1="471.90" x2="497.30" y2="471.90" stroke="#444" stroke-width="1.0" />
<circle cx="464.90" cy="469.10" r="0.8" fill="#2a2a2a"/>
<circle cx="467.50" cy="469.10" r="0.8" fill="#2a2a2a"/>
<circle cx="470.10" cy="469.10" r="0.8" fill="#2a2a2a"/>
<line x1="414.60" y1="478.70" x2="474.60" y2="478.70" stroke="#333" stroke-width="1.0" />
<circle cx="442.20" cy="475.90" r="0.8" fill="#2a2a2a"/>
<circle cx="444.80" cy="475.90" r="0.8" fill="#2a2a2a"/>
<circle cx="447.40" cy="475.90" r="0.8" fill="#2a2a2a"/>
<line x1="414.60" y1="485.80" x2="435.80" y2="485.80" stroke="#666" stroke-width="1.3" />
<text x="425.20" y="484.20" font-size="5" fill="#2a2a2a" text-anchor="middle" >ns</text>
<line x1="439.00" y1="485.80" x2="473.30" y2="485.80" stroke="#666" stroke-width="1.3" />
<circle cx="453.70" cy="482.70" r="0.8" fill="#2a2a2a"/>
<circle cx="456.30" cy="482.70" r="0.8" fill="#2a2a2a"/>
<circle cx="458.90" cy="482.70" r="0.8" fill="#2a2a2a"/>
<line x1="476.20" y1="485.80" x2="497.30" y2="485.80" stroke="#666" stroke-width="1.3" />
<circle cx="485.60" cy="482.70" r="0.8" fill="#2a2a2a"/>
<circle cx="488.20" cy="482.70" r="0.8" fill="#2a2a2a"/>
<text x="0" y="0" font-size="7" fill="#2a2a2a" stroke="#2a2a2a" stroke-width="0.18" text-anchor="end" transform="translate(418.60 583.60) rotate(-45)" >- IGF1</text>
<text x="0" y="0" font-size="7" fill="#2a2a2a" stroke="#2a2a2a" stroke-width="0.18" text-anchor="end" transform="translate(441.00 583.60) rotate(-45)" >+ IGF1</text>
<text x="0" y="0" font-size="7" fill="#2a2a2a" stroke="#2a2a2a" stroke-width="0.18" text-anchor="end" transform="translate(478.60 583.60) rotate(-45)" >- IGF1</text>
<text x="0" y="0" font-size="7" fill="#2a2a2a" stroke="#2a2a2a" stroke-width="0.18" text-anchor="end" transform="translate(501.20 583.60) rotate(-45)" >+ IGF1</text>
<line x1="414.60" y1="600.80" x2="437.00" y2="600.80" stroke="#555" stroke-width="1.3" />
<text x="425.70" y="609.80" font-size="7" fill="#2a2a2a" stroke="#2a2a2a" stroke-width="0.18" text-anchor="middle" >T-ALL</text>
<line x1="475.10" y1="600.80" x2="497.20" y2="600.80" stroke="#555" stroke-width="1.3" />
<text x="486.20" y="609.80" font-size="7" fill="#2a2a2a" stroke="#2a2a2a" stroke-width="0.18" text-anchor="middle" >T-ALL</text>
<text x="486.20" y="617.90" font-size="7" fill="#2a2a2a" stroke="#2a2a2a" stroke-width="0.18" text-anchor="middle" >+myeloid</text>
</svg></body></html>
